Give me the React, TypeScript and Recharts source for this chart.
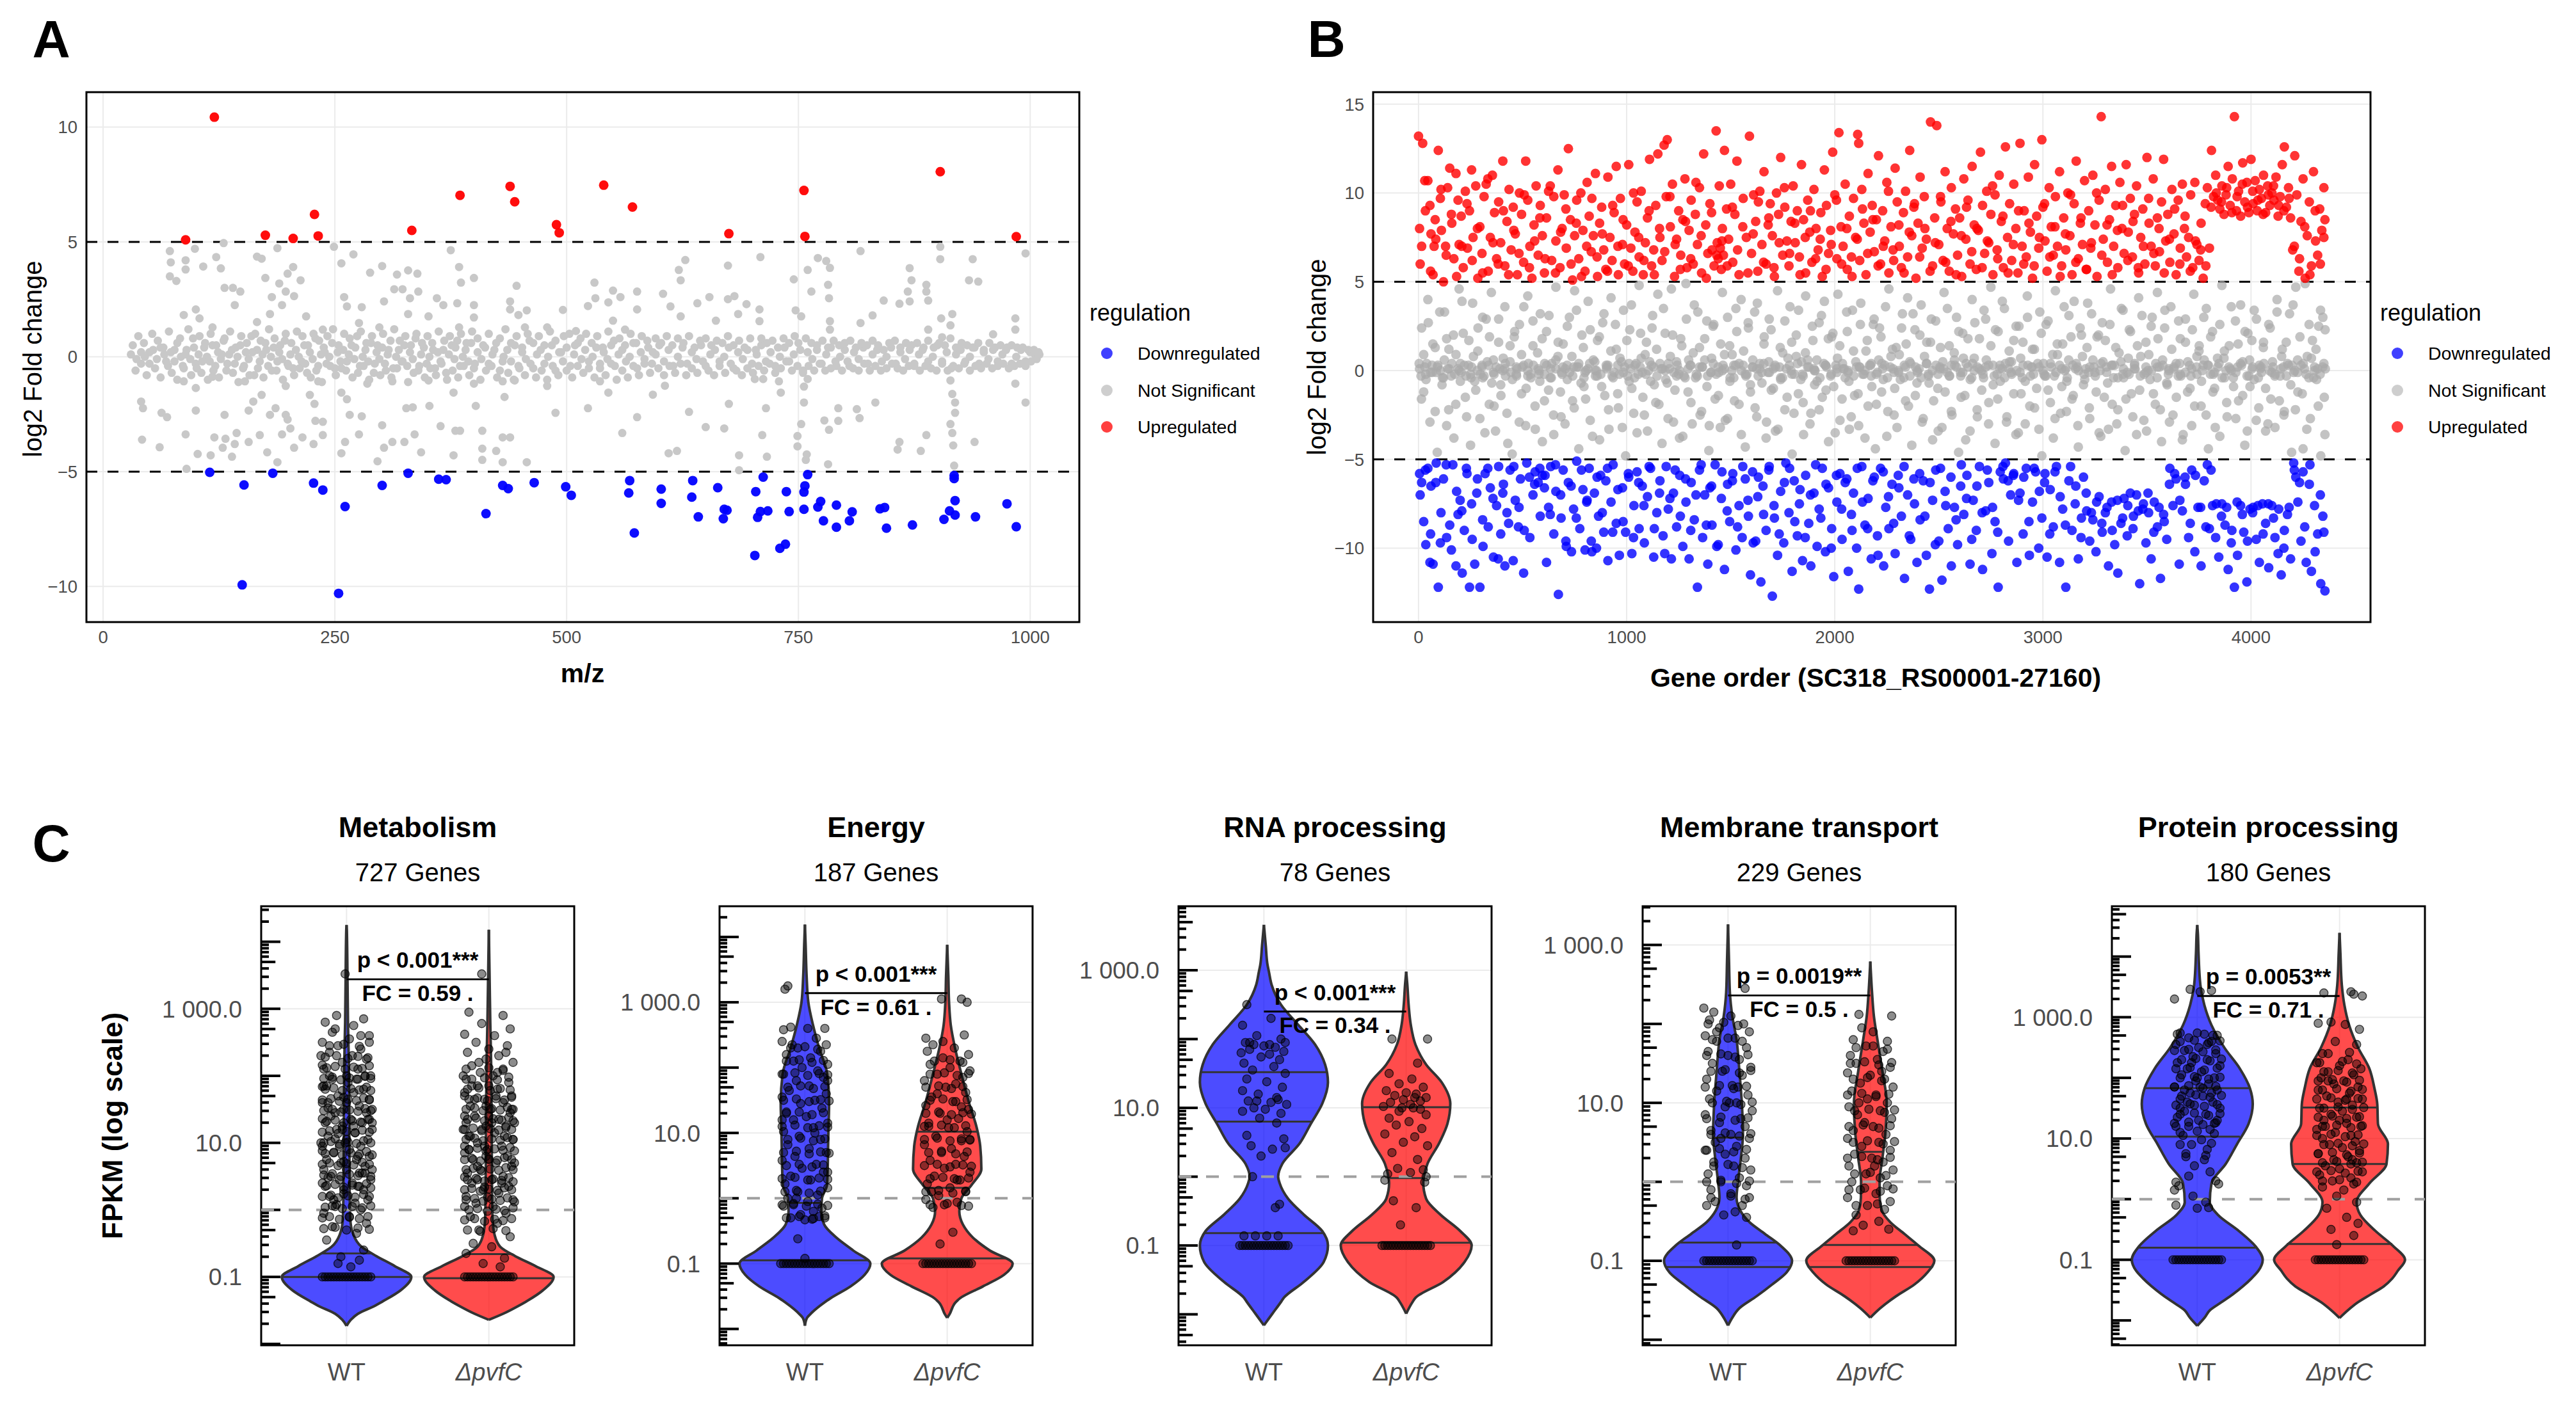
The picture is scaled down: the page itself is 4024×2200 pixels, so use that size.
import React from "react";
import {
  Area,
  CartesianGrid,
  ComposedChart,
  Label,
  ReferenceArea,
  ReferenceLine,
  Scatter,
  ScatterChart,
  XAxis,
  YAxis,
} from "recharts";

type Pair = [number, number];

const FONT = '"Liberation Sans", Arial, Helvetica, sans-serif';

// ---------- panel A : m/z vs log2 fold change ----------
const mzUp: Pair[] = [[120,10.43],[89,5.09],[175,5.29],[205,5.15],[228,6.2],[232,5.26],[333,5.5],[385,7.03],[439,7.42],[444,6.75],[489,5.75],[492,5.4],[540,7.47],[571,6.52],[675,5.36],[756,7.24],[757,5.24],[903,8.06],[985,5.23]];

const mzDown: Pair[] = [[115,-5.03],[152,-5.58],[150,-9.93],[183,-5.07],[227,-5.5],[237,-5.8],[261,-6.52],[254,-10.3],[301,-5.6],[329,-5.07],[362,-5.33],[370,-5.35],[413,-6.83],[431,-5.6],[437,-5.74],[465,-5.48],[499,-5.66],[505,-6.03],[568,-5.39],[567,-5.93],[573,-7.67],[602,-5.76],[602,-6.38],[636,-5.39],[635,-6.11],[642,-6.97],[663,-5.7],[670,-6.64],[669,-7.05],[673,-6.68],[704,-5.87],[712,-5.24],[706,-6.99],[709,-6.74],[717,-6.71],[703,-8.65],[730,-8.34],[736,-8.16],[737,-5.87],[740,-6.74],[760,-5.13],[757,-5.62],[756,-5.89],[756,-6.64],[774,-6.3],[771,-6.54],[777,-7.14],[791,-6.46],[791,-7.42],[808,-6.75],[805,-7.14],[838,-6.62],[843,-6.56],[845,-7.46],[873,-7.32],[907,-7.08],[913,-6.71],[918,-5.17],[918,-5.3],[919,-6.26],[919,-6.89],[941,-6.97],[975,-6.4],[985,-7.4]];

const mzNs: Pair[] = [
  [30,.1],[36,-.1],[41,.2],[45,0],[50,-.3],[54,.3],[58,-.1],[62,.4],[66,.1],[70,-.4],[73,.2],[77,-.2],[80,.6],[84,0],[87,-.5],[90,.3],[94,-.1],[97,.8],[100,-.3],[103,.1],[106,-.7],[109,.4],[112,0],[115,-.2],[118,.5],[121,-.4],[124,.2],[127,-.1],[130,.7],[133,-.6],[136,.1],[139,.3],[142,-.3],[145,0],[148,.5],[151,-.5],[154,.2],[157,-.1],[160,.9],[163,-.8],[166,.3],[169,-.2],[172,.1],[175,.6],[178,-.4],[181,0],[184,.4],[187,-.6],[190,.2],[193,-.1],[196,.7],[199,-.3],[202,.1],[205,-.5],[208,.3],[211,0],[214,-.2],[217,.5],[220,-.7],[223,.2],[226,-.1],[229,.8],[232,-.4],[235,.1],[238,.4],[241,-.3],[244,0],[247,.6],[250,-.5],[253,.2],[256,-.2],[259,.3],[262,-.6],[265,.1],[268,.5],[271,-.1],[274,.9],[277,-.4],[280,0],[283,.3],[286,-.2],[289,.6],[292,-.7],[295,.2],[298,-.1],[301,.4],[304,-.3],[307,.1],[310,.7],[313,-.5],[316,0],[319,.3],[322,-.2],[325,.5],[328,-.4],[331,.2],[334,-.1],[337,.8],[340,-.6],[343,.1],[346,.4],[349,-.3],[352,0],[355,.6],[358,-.5],[361,.2],[364,-.2],[367,.3],[370,-.7],[373,.1],[376,.5],[379,-.1],[382,.7],[385,-.4],[388,0],[391,.3],[394,-.2],[397,.6],[400,-.5],[404,.2],[408,-.1],[412,.4],[416,-.3],[420,.1],[424,.6],[428,-.6],[432,0],[436,.3],[440,-.2],[444,.5],[448,-.4],[452,.2],[456,-.1],[460,.7],[464,-.5],[468,.1],[472,.3],[476,-.3],[480,0],[484,.5],[488,-.6],[492,.2],[496,-.2],[500,.4],[504,-.4],[508,.1],[512,.6],[516,-.1],[520,.3],[524,-.5],[528,0],[532,.4],[536,-.3],[540,.2],[544,-.1],[548,.5],[552,-.4],[556,.1],[560,.3],[564,-.2],[568,0],[572,.6],[576,-.5],[580,.2],[584,-.1],[588,.4],[592,-.3],[596,.1],[600,.5],[605,-.2],[610,.3],[615,-.4],[620,0],[625,.4],[630,-.3],[635,.2],[640,-.1],[645,.5],[650,-.4],[655,.1],[660,.3],[665,-.2],[670,0],[675,.4],[680,-.5],[685,.2],[690,-.1],[695,.3],[700,-.3],[705,.1],[710,.5],[715,-.2],[720,.2],[725,-.4],[730,0],[735,.4],[740,-.2],[745,.1],[750,.6],[755,-.6],[760,.2],[765,-.1],[770,.3],[775,-.3],[780,.1],[785,.4],[790,-.2],[795,0],[800,.3],[805,-.4],[810,.2],[815,-.1],[820,.4],[825,-.3],[830,.1],[835,.3],[840,-.2],[845,0],[850,.4],[855,-.3],[860,.2],[865,-.1],[870,.3],[875,-.4],[880,.1],[885,.4],[890,-.2],[895,0],[900,.5],[905,-.3],[910,.2],[915,-.5],[920,.1],[925,.3],[930,-.2],[935,0],[940,.4],[945,-.3],[950,.2],[955,-.1],[960,.3],[965,-.2],[970,.1],[975,.4],[980,-.3],[985,0],[990,.3],[995,-.2],[1000,.2],[1005,.1],[1010,.1],
  [72,4.6],[73,4.11],[89,4.2],[89,3.8],[72,3.5],[79,3.3],[99,4.7],[108,3.93],[122,4.34],[130,4.95],[127,3.85],[131,3.0],[140,3.0],[148,2.84],[142,2.25],[166,4.36],[171,4.27],[188,4.73],[175,3.43],[205,3.91],[199,3.62],[213,3.33],[190,3.19],[182,2.6],[197,2.84],[193,2.25],[180,1.86],[206,2.64],[249,4.79],[257,4.07],[270,4.46],[260,2.6],[263,2.19],[279,2.16],[288,3.66],[301,3.95],[303,2.41],[314,2.94],[323,2.94],[317,3.58],[329,3.76],[339,3.62],[331,2.55],[340,2.84],[360,2.55],[367,2.25],[375,4.64],[384,3.91],[386,3.23],[400,3.43],[382,2.33],[400,2.25],[439,2.41],[446,3.09],[439,2.06],[457,2.02],[496,2.04],[530,3.23],[531,2.55],[545,2.37],[550,2.88],[558,2.6],[576,2.84],[523,2.21],
  [87,1.82],[100,2.06],[104,1.67],[118,1.28],[166,1.51],[219,1.76],[237,1.18],[276,1.47],[298,1.28],[329,1.86],[351,1.76],[384,1.28],[400,1.71],[448,1.82],[455,1.28],[479,1.28],[510,1.12],[563,1.18],[550,1.57],[576,2.06],
  [42,-3.61],[43,-2.24],[41,-1.95],[61,-3.94],[63,-2.44],[69,-2.63],[89,-3.38],[90,-4.88],[100,-2.34],[102,-4.23],[116,-4.29],[120,-3.51],[131,-2.53],[132,-3.57],[129,-3.96],[139,-4.35],[144,-3.32],[142,-3.8],[157,-3.71],[157,-2.34],[162,-1.95],[171,-1.66],[169,-3.41],[177,-4.16],[180,-2.53],[186,-2.24],[188,-4.59],[197,-2.53],[199,-2.73],[202,-3.12],[193,-3.38],[206,-3.96],[215,-3.51],[223,-1.66],[228,-2.05],[229,-2.79],[237,-2.83],[227,-3.8],[237,-3.41],[257,-1.56],[263,-1.85],[257,-4.2],[266,-2.53],[261,-3.71],[279,-2.59],[276,-3.38],[296,-4.55],[301,-2.98],[303,-3.96],[312,-3.71],[325,-3.71],[327,-2.24],[334,-2.2],[343,-4.16],[336,-3.38],[352,-2.14],[364,-3.02],[378,-1.56],[380,-3.22],[378,-4.29],[385,-3.22],[402,-2.14],[409,-3.22],[409,-4.0],[409,-4.49],[424,-4.1],[431,-3.51],[439,-3.51],[431,-4.59],[457,-4.59],[433,-1.75],[431,-1.07],[488,-2.44],[523,-2.24],[560,-3.32],[576,-2.63],[545,-1.56],[536,-1.07],
  [87,-1.07],[100,-1.36],[118,-.87],[153,-1.07],[197,-1.27],[232,-1.07],[285,-1.17],[312,-1.07],[351,-1.03],[400,-1.17],[444,-1.03],[479,-1.27],
  [628,4.21],[621,3.78],[623,3.33],[604,2.74],[612,2.19],[654,2.6],[641,2.33],[623,1.76],[674,3.97],[681,2.64],[674,2.51],[694,2.29],[709,4.34],[708,2.06],[708,1.55],[685,1.86],[661,1.57],[745,3.37],[760,3.78],[764,2.84],[771,4.3],[780,4.17],[784,3.87],[782,3.13],[783,2.55],[747,2.02],[753,1.76],[784,1.55],[784,1.18],[817,4.6],[817,1.47],[830,1.8],[842,2.45],[859,2.31],[870,3.86],[872,3.33],[868,2.84],[870,2.41],[888,3.13],[888,2.84],[890,2.45],[903,4.79],[903,4.25],[890,1.18],[904,1.67],[916,1.86],[914,1.37],[905,.85],[934,3.33],[938,4.25],[944,3.27],[960,.98],[984,1.67],[984,1.18],[995,4.5],
  [632,-2.4],[650,-3.06],[670,-3.12],[675,-2.05],[610,-4.2],[619,-4.1],[686,-4.29],[686,-4.94],[716,-4.35],[711,-3.41],[715,-2.24],[749,-3.45],[749,-3.9],[753,-2.93],[756,-1.99],[758,-4.49],[759,-4.25],[782,-4.68],[778,-2.77],[793,-2.79],[793,-2.24],[783,-3.18],[813,-2.28],[816,-2.67],[833,-1.99],[857,-4.04],[859,-3.71],[882,-4.1],[888,-3.41],[914,-2.93],[916,-3.32],[919,-2.44],[919,-1.99],[917,-3.86],[918,-4.74],[916,-1.62],[914,-1.03],[940,-3.71],[984,-1.17],[995,-1.99],[712,-.97],[729,-1.07],[756,-1.3],[760,-.97],[731,-1.56],[703,-.97],[606,-1.26],[593,-1.65],
];

// dense core of the unchanged features around 0
const mzNsBand: Pair[] = [
  [32,.5],[35,-.6],[38,.9],[41,-.3],[44,.6],[47,-.8],[50,.2],[53,1.0],[56,-.5],[59,.7],[62,-.9],[65,.4],[68,-.2],[71,1.1],[74,-.7],[77,.3],[80,-1.0],[83,.8],[86,-.4],[89,.1],
  [92,1.2],[95,-.8],[98,.4],[101,-.5],[104,.9],[107,-.2],[110,.6],[113,-1.0],[116,1.0],[119,-.6],[122,.5],[125,-.9],[128,.1],[131,.8],[134,-.3],[137,1.1],[140,-.7],[143,.4],[146,-1.1],[149,.9],
  [152,-.4],[155,.6],[158,-.8],[161,.2],[164,1.0],[167,-.5],[170,.7],[173,-.9],[176,.3],[179,1.2],[182,-.6],[185,.8],[188,-.2],[191,.5],[194,-1.0],[197,1.0],[200,-.4],[203,.6],[206,-.8],[209,1.1],
  [212,-.5],[215,.9],[218,-.3],[221,.5],[224,-.9],[227,1.0],[230,-.6],[233,.7],[236,-1.1],[239,.2],[242,.9],[245,-.4],[248,1.2],[251,-.8],[254,.5],[257,-.5],[260,1.0],[263,-.2],[266,.8],[269,-.9],
  [272,.4],[275,-.7],[278,1.1],[281,-.4],[284,.6],[287,-1.0],[290,.9],[293,-.3],[296,.5],[299,-.8],[302,1.0],[305,-.6],[308,.3],[311,-.9],[314,1.2],[317,-.5],[320,.7],[323,-.2],[326,.9],[329,-1.1],
  [332,.5],[335,-.7],[338,1.0],[341,-.4],[344,.6],[347,-.9],[350,.9],[353,-.5],[356,.3],[359,-.8],[362,1.1],[365,-.3],[368,.7],[371,-1.0],[374,.9],[377,-.6],[380,.4],[383,-.9],[386,1.0],[389,-.4],
  [392,.6],[395,-.8],[398,1.1],[401,-.3],[404,.8],[407,-1.0],[410,.5],[413,-.6],[416,1.0],[419,-.4],[422,.3],[425,-.9],[428,.8],[431,-.2],[434,1.2],[437,-.7],[440,.6],[443,-1.0],[446,.9],[449,-.5],
  [452,.4],[455,-.8],[458,1.0],[461,-.3],[464,.6],[467,-.9],[470,.9],[473,-.6],[476,.5],[479,-1.0],[482,1.1],[485,-.4],[488,.7],[491,-.8],[494,.2],[497,.9],[500,-.6],[503,1.0],[506,-.9],[509,.5],
  [512,-.4],[515,.8],[518,-.7],[521,1.0],[524,-.2],[527,.6],[530,-.9],[533,.9],[536,-.5],[539,.4],[542,-.8],[545,1.1],[548,-.3],[551,.7],[554,-1.0],[557,.8],[560,-.6],[563,.5],[566,-.9],[569,1.0],
  [572,-.4],[575,.6],[578,-.8],[581,.9],[584,-.3],[587,.7],[590,-.7],[593,.2],[596,.8],[599,-.5],[602,.6],[605,-.8],[608,.9],[611,-.4],[614,.5],[617,-.7],[620,.8],[623,-.3],[626,.6],[629,-.8],
  [632,.9],[635,-.5],[638,.4],[641,-.7],[644,.7],[647,-.2],[650,.8],[653,-.6],[656,.5],[659,-.8],[662,.7],[665,-.4],[668,.6],[671,-.7],[674,.9],[677,-.3],[680,.5],[683,-.6],[686,.7],[689,-.8],
  [692,.4],[695,-.5],[698,.8],[701,-.7],[704,.3],[707,-.4],[710,.8],[713,-.6],[716,.6],[719,-.3],[722,.7],[725,-.7],[728,.4],[731,-.5],[734,.8],[737,-.2],[740,.6],[743,-.6],[746,.9],[749,-.4],
  [752,.3],[755,-.7],[758,.8],[761,-.4],[764,.6],[767,-.6],[770,.5],[773,-.3],[776,.7],[779,-.6],[782,.4],[785,-.5],[788,.7],[791,-.4],[794,.5],[797,-.6],[800,.6],[803,-.2],[806,.7],[809,-.5],
  [812,.4],[815,-.6],[818,.6],[821,-.3],[824,.5],[827,-.6],[830,.7],[833,-.4],[836,.5],[839,-.6],[842,.3],[845,-.5],[848,.6],[851,-.3],[854,.7],[857,-.5],[860,.4],[863,-.6],[866,.6],[869,-.4],
  [872,.5],[875,-.3],[878,.6],[881,-.6],[884,.3],[887,-.4],[890,.7],[893,-.5],[896,.4],[899,-.6],[902,.6],[905,-.2],[908,.5],[911,-.6],[914,.8],[917,-.4],[920,.4],[923,-.5],[926,.6],[929,-.3],
  [932,.5],[935,-.6],[938,.4],[941,-.4],[944,.6],[947,-.5],[950,.3],[953,-.3],[956,.6],[959,-.5],[962,.4],[965,-.4],[968,.5],[971,-.3],[974,.3],[977,-.5],[980,.5],[983,-.4],[986,.4],[989,-.3],
  [992,.4],[995,-.4],[998,.3],[1001,-.2],[1004,.3],[1007,-.1],[1009,.2],
];

// ---------- panel B : gene order vs log2 fold change ----------
const geneUp: Pair[] = [
  [0,13.2],[20,12.8],[5,8],[15,7],[30,10.7],[45,10.7],[55,9.3],[60,7.7],[70,5.4],[75,7.0],[80,8.5],[95,12.4],[105,9.7],[110,7.9],[120,5.0],[130,7.0],[140,10.3],[150,11.4],[160,8.3],[170,6.3],[180,11.1],[190,9.6],[195,7.1],
  [205,8.7],[215,5.8],[225,10.1],[235,6.9],[245,9.0],[255,11.3],[262,7.5],[275,10.4],[285,5.2],[295,8.1],[305,6.6],[315,9.8],[325,10.5],[335,5.6],[345,7.5],[355,11.0],[365,8.9],[375,6.3],[385,9.5],[395,7.2],
  [405,11.8],[415,5.9],[425,8.4],[435,10.2],[445,6.8],[455,9.2],[465,7.7],[475,5.4],[485,10.0],[495,8.8],[505,6.1],[515,11.8],[525,9.6],[535,7.0],[545,5.2],[555,8.2],[565,10.4],[575,6.5],[585,9.3],[595,7.6],
  [605,5.5],[615,8.6],[625,10.1],[640,6.2],[650,9.8],[660,7.3],[670,11.3],[680,5.8],[690,8.0],[700,9.9],[710,6.9],[720,12.5],[730,8.5],[740,5.1],[750,7.6],[760,9.6],[770,6.3],[780,10.0],[790,7.9],[800,5.6],
  [810,10.6],[820,8.7],[830,6.7],[840,7.6],[850,11.1],[860,5.3],[870,8.3],[880,9.2],[890,6.8],[900,5.7],[910,10.9],[920,7.5],[930,6.2],[940,8.9],[950,11.5],[960,5.4],[970,9.7],[980,7.1],[990,6.0],[1000,8.2],
  [1010,11.6],[1020,6.9],[1030,5.6],[1040,7.8],[1050,9.5],[1060,6.4],[1070,10.1],[1080,5.4],[1090,7.2],[1100,8.6],[1110,11.9],[1120,5.9],[1130,6.8],[1140,9.3],[1150,12.2],[1160,7.5],[1170,6.2],[1180,12.7],[1195,13.0],[1190,9.8],
  [1210,8.1],[1220,10.5],[1230,5.3],[1240,7.4],[1250,9.0],[1260,6.5],[1270,8.5],[1280,10.8],[1290,5.8],[1300,7.9],[1310,9.6],[1320,6.0],[1330,8.8],[1340,7.1],[1350,10.3],[1360,5.5],[1370,12.2],[1380,8.2],[1390,6.6],[1400,9.4],
  [1410,6.8],[1420,5.9],[1430,13.5],[1435,7.2],[1440,6.3],[1445,10.4],[1450,6.9],[1455,5.7],[1460,8.0],[1465,6.5],[1470,12.4],[1480,9.1],[1490,7.4],[1500,10.5],[1510,6.1],[1520,8.8],[1530,11.8],[1540,5.4],[1560,9.7],[1575,7.5],[1590,13.2],
  [1600,6.6],[1610,9.9],[1620,8.4],[1630,5.6],[1640,10.1],[1650,7.1],[1660,11.2],[1670,6.0],[1680,8.2],[1690,9.4],[1700,7.6],[1710,5.3],[1720,10.0],[1730,8.8],[1740,12.0],[1750,6.5],[1760,9.2],[1770,7.3],[1780,5.9],[1790,8.4],
  [1800,10.4],[1810,7.2],[1820,9.0],[1830,6.4],[1840,11.6],[1850,8.5],[1860,5.5],[1870,9.6],[1880,7.8],[1890,6.1],[1900,10.2],[1910,8.0],[1920,6.8],[1930,7.4],[1940,5.3],[1950,11.3],[1960,9.3],[1970,6.6],[1980,7.9],[1990,12.3],
  [2000,9.9],[2010,6.3],[2020,13.4],[2030,8.1],[2040,7.0],[2050,10.5],[2060,5.7],[2070,8.7],[2080,6.4],[2090,9.7],[2100,7.5],[2110,13.3],[2115,12.8],[2120,6.2],[2130,10.2],[2140,8.3],[2150,5.4],[2160,11.1],[2170,7.8],[2180,9.3],[2190,6.7],
  [2200,8.5],[2210,12.1],[2220,6.0],[2230,9.0],[2240,7.3],[2250,10.6],[2260,5.5],[2270,8.1],[2280,6.8],[2290,11.4],[2300,9.5],[2310,7.0],[2320,5.8],[2330,8.9],[2340,10.1],[2350,6.4],[2360,12.4],[2370,7.6],[2380,9.2],[2390,5.2],
  [2400,8.3],[2410,10.9],[2420,6.9],[2430,9.8],[2440,7.4],[2460,14.0],[2470,5.9],[2480,8.6],[2490,13.8],[2500,7.1],[2510,9.5],[2520,6.2],[2530,11.2],[2540,8.0],[2550,5.6],[2560,10.3],[2570,7.7],[2580,9.1],[2590,6.5],
  [2600,8.6],[2610,5.3],[2620,10.8],[2630,7.4],[2640,9.6],[2650,6.0],[2660,11.5],[2670,8.2],[2680,5.7],[2690,7.9],[2700,12.3],[2710,9.3],[2720,6.6],[2730,10.1],[2740,7.2],[2750,8.8],[2760,5.4],[2770,9.9],[2780,6.8],[2790,11.0],
  [2800,8.4],[2810,5.8],[2820,12.6],[2830,7.5],[2840,9.4],[2850,6.2],[2860,10.5],[2870,8.0],[2880,5.5],[2890,12.8],[2900,7.0],[2910,9.0],[2920,6.4],[2930,10.9],[2940,7.8],[2950,5.2],[2960,11.6],[2970,8.7],[2980,6.9],[2995,13.0],
  [3000,9.2],[3010,7.3],[3020,5.6],[3030,10.3],[3040,8.1],[3050,6.5],[3060,9.8],[3070,7.0],[3080,11.2],[3090,5.9],[3100,8.6],[3110,6.8],[3120,10.0],[3130,7.6],[3140,5.4],[3150,9.4],[3160,11.8],[3170,6.3],[3180,8.3],[3190,7.1],
  [3200,10.7],[3210,5.7],[3220,9.0],[3230,6.9],[3240,11.0],[3250,8.2],[3260,5.3],[3270,9.6],[3280,14.3],[3290,7.4],[3300,10.2],[3310,6.1],[3320,8.5],[3330,11.5],[3340,7.0],[3350,9.3],[3360,5.8],[3370,10.6],[3380,8.0],[3390,6.6],
  [3400,11.6],[3410,7.8],[3420,9.7],[3430,6.4],[3440,8.8],[3450,10.4],[3460,5.5],[3470,7.5],[3480,9.1],[3490,6.0],[3500,12.0],[3510,8.3],[3520,7.0],[3530,10.8],[3540,5.9],[3550,8.6],[3560,6.7],[3570,9.5],[3580,11.9],[3590,7.3],
  [3600,8.8],[3610,6.1],[3620,10.2],[3630,7.7],[3640,5.4],[3650,9.6],[3660,6.9],[3670,10.5],[3680,8.0],[3690,6.4],[3700,7.5],[3710,9.9],[3720,5.8],[3730,10.6],[3740,7.1],[3750,6.2],[3760,8.3],[3770,5.2],[3780,9.4],[3790,10.3],
  [3800,6.9],[3810,12.4],[3820,9.8],[3830,11.0],[3840,9.6],[3850,9.1],[3860,10.4],[3870,8.8],[3880,9.9],[3890,11.5],[3900,9.3],[3910,10.8],[3920,14.3],[3930,9.0],[3940,10.1],[3950,8.7],[3960,11.7],[3970,9.5],[3980,10.6],[3990,8.9],
  [4000,11.9],[4010,9.4],[4020,10.7],[4030,9.0],[4040,10.2],[4050,9.7],[4060,11.0],[4070,8.9],[4080,10.4],[4090,9.3],[4100,10.0],[4110,9.6],[4120,10.9],[4130,8.7],[4140,9.8],[4150,11.6],[4160,12.6],[4170,9.2],[4180,10.3],[4190,8.6],
  [4200,6.8],[4210,12.1],[4220,9.9],[4230,5.6],[4240,8.4],[4250,10.8],[4260,5.2],[4270,7.6],[4280,9.5],[4290,5.9],[4300,11.2],[4310,7.3],[4320,6.5],[4330,9.1],[4340,7.9],[4350,10.3],[4355,8.5],
];

const geneUp2: Pair[] = [
  [8,6.0],[33,9.0],[58,5.6],[83,7.4],[108,10.2],[133,6.5],[158,8.8],[183,5.3],[208,7.0],[233,9.4],[258,6.2],[283,8.0],[308,5.5],[333,10.8],[358,7.2],[383,6.0],[408,9.0],[433,5.4],[458,7.9],[483,6.6],
  [508,9.9],[533,5.8],[558,7.3],[583,8.6],[608,6.3],[633,10.4],[658,5.5],[683,7.8],[708,9.1],[733,6.0],[758,8.3],[783,5.3],[808,7.0],[833,9.7],[858,6.4],[883,7.7],[908,5.6],[933,9.3],[958,7.0],[983,8.5],
  [1008,5.9],[1033,10.0],[1058,7.5],[1083,6.2],[1108,9.0],[1133,5.4],[1158,8.0],[1183,6.7],[1208,9.8],[1233,7.1],[1258,5.7],[1283,8.4],[1308,6.3],[1333,10.6],[1358,7.6],[1383,5.2],[1408,8.9],[1433,6.5],[1458,7.3],[1483,5.9],
  [1508,9.2],[1533,6.8],[1558,8.1],[1583,5.5],[1608,7.7],[1633,9.5],[1658,6.1],[1683,8.6],[1708,5.8],[1733,7.2],[1758,10.3],[1783,6.6],[1808,8.3],[1833,5.4],[1858,7.5],[1883,9.0],[1908,6.3],[1933,8.9],[1958,5.7],[1983,7.1],
  [2008,9.6],[2033,6.0],[2058,8.0],[2083,5.3],[2108,7.4],[2133,9.1],[2158,6.6],[2183,8.5],[2208,5.9],[2233,7.0],[2258,10.1],[2283,6.2],[2308,8.2],[2333,5.5],[2358,7.8],[2383,9.4],[2408,6.4],[2433,8.0],[2458,5.6],[2483,7.2],
  [2508,9.8],[2533,6.1],[2558,8.4],[2583,5.4],[2608,7.6],[2633,9.2],[2658,6.7],[2683,8.0],[2708,5.8],[2733,7.3],[2758,10.4],[2783,6.3],[2808,8.7],[2833,5.5],[2858,7.1],[2883,9.0],[2908,6.0],[2933,8.3],[2958,5.9],[2983,7.5],
  [3008,9.4],[3033,6.4],[3058,8.1],[3083,5.3],[3108,7.7],[3133,9.9],[3158,6.1],[3183,8.6],[3208,5.7],[3233,7.2],[3258,10.0],[3283,6.5],[3308,8.2],[3333,5.4],[3358,7.9],[3383,9.3],[3408,6.2],[3433,8.4],[3458,5.8],[3483,7.0],
  [3508,9.7],[3533,6.6],[3558,8.0],[3583,5.5],[3608,7.4],[3633,9.1],[3658,6.0],[3683,8.7],[3708,5.6],[3733,7.3],[3758,6.8],[3783,5.9],[3808,9.2],[3833,10.0],[3858,9.5],[3883,10.3],[3908,8.9],[3933,9.8],[3958,10.5],[3983,9.2],
  [4008,10.1],[4033,9.6],[4058,8.8],[4083,9.9],[4108,10.4],[4133,9.3],[4158,9.0],[4183,9.7],[4208,7.0],[4233,6.3],[4258,8.1],[4283,5.4],[4308,9.0],[4333,6.0],[4350,7.5],
];

const geneDown: Pair[] = [
  [5,-5.8],[15,-6.3],[25,-8.5],[35,-9.8],[45,-5.5],[55,-10.8],[60,-6.5],[70,-10.9],[85,-5.2],[95,-12.2],[105,-9.7],[120,-6.1],[135,-9.4],[150,-8.7],[165,-5.3],[180,-11.0],[190,-8.1],[200,-7.3],
  [210,-11.4],[220,-9.0],[230,-5.5],[245,-12.2],[255,-7.5],[270,-10.9],[280,-6.9],[295,-12.2],[310,-9.9],[320,-5.8],[335,-8.8],[345,-6.6],[360,-10.5],[375,-7.6],[385,-5.4],[395,-9.2],
  [405,-6.9],[415,-11.0],[425,-8.0],[440,-5.6],[455,-10.7],[465,-7.3],[480,-8.8],[490,-6.1],[505,-11.4],[520,-5.2],[535,-9.4],[550,-7.0],[560,-5.7],[575,-6.3],[585,-8.2],[595,-5.9],
  [605,-6.6],[615,-10.8],[625,-7.7],[635,-5.4],[650,-9.2],[660,-6.8],[672,-12.6],[685,-8.3],[695,-5.6],[710,-9.9],[720,-6.3],[735,-10.2],[745,-7.8],[760,-5.1],[775,-8.9],[790,-6.7],
  [800,-10.1],[810,-7.3],[820,-5.5],[830,-9.6],[845,-6.9],[855,-10.0],[865,-8.2],[875,-5.9],[890,-9.1],[900,-6.2],[910,-10.7],[925,-7.4],[935,-5.3],[950,-8.6],[965,-10.4],[980,-6.6],
  [995,-9.1],[1010,-6.0],[1025,-10.3],[1035,-7.6],[1050,-5.7],[1060,-8.9],[1075,-6.5],[1085,-9.7],[1100,-7.1],[1115,-5.5],[1130,-10.5],[1145,-8.0],[1160,-6.2],[1175,-9.3],[1190,-5.4],[1200,-7.8],
  [1215,-10.6],[1225,-6.9],[1240,-8.8],[1255,-5.9],[1270,-9.9],[1285,-7.4],[1300,-10.6],[1310,-6.3],[1325,-8.4],[1340,-12.2],[1350,-5.6],[1365,-9.4],[1375,-7.0],[1390,-10.9],[1400,-6.6],
  [1410,-8.7],[1425,-5.3],[1440,-9.8],[1455,-7.2],[1470,-11.2],[1485,-6.4],[1495,-8.5],[1510,-5.8],[1525,-10.1],[1540,-7.6],[1555,-9.4],[1570,-6.1],[1585,-8.2],[1595,-11.5],
  [1605,-5.7],[1620,-9.6],[1630,-7.1],[1645,-11.9],[1655,-6.5],[1670,-9.0],[1685,-5.4],[1700,-12.7],[1710,-8.3],[1725,-10.4],[1740,-6.8],[1755,-9.7],[1765,-5.2],[1780,-8.0],[1795,-11.3],
  [1805,-6.2],[1820,-9.3],[1830,-7.5],[1845,-10.7],[1860,-5.9],[1875,-8.6],[1885,-11.0],[1900,-6.9],[1915,-9.9],[1925,-7.8],[1940,-5.5],[1955,-10.2],[1970,-6.6],[1985,-8.9],[1995,-11.6],
  [2010,-7.4],[2025,-5.8],[2035,-9.5],[2050,-6.3],[2065,-11.3],[2080,-8.1],[2090,-6.9],[2105,-10.0],[2115,-12.3],[2130,-5.4],[2145,-8.7],[2160,-7.2],[2175,-10.6],[2190,-6.0],
  [2205,-9.3],[2220,-5.5],[2235,-11.0],[2245,-7.7],[2260,-8.9],[2275,-6.4],[2290,-10.3],[2305,-5.9],[2320,-8.2],[2335,-11.7],[2350,-7.0],[2365,-9.5],[2380,-6.1],[2395,-10.8],
  [2410,-8.4],[2425,-6.2],[2440,-10.4],[2455,-12.3],[2470,-7.3],[2485,-5.6],[2500,-9.6],[2515,-11.8],[2530,-6.8],[2545,-8.9],[2560,-11.0],[2575,-7.7],[2590,-9.8],
  [2605,-6.5],[2620,-8.1],[2635,-5.9],[2650,-10.9],[2665,-7.3],[2680,-9.0],[2695,-5.4],[2710,-11.2],[2725,-7.9],[2740,-6.3],[2755,-10.3],[2770,-8.5],[2785,-12.2],[2795,-5.7],
  [2810,-6.1],[2820,-5.2],[2835,-9.6],[2845,-7.0],[2860,-5.8],[2875,-10.8],[2890,-6.9],[2905,-9.2],[2920,-5.5],[2935,-10.4],[2950,-7.4],[2965,-5.7],[2980,-10.0],[2995,-8.3],
  [3010,-5.8],[3020,-10.5],[3035,-6.7],[3050,-8.8],[3065,-5.4],[3080,-10.8],[3095,-7.8],[3110,-12.2],[3125,-6.2],[3140,-9.0],[3155,-7.5],[3170,-10.6],[3185,-8.3],[3195,-6.0],
  [3210,-7.9],[3225,-9.6],[3240,-8.4],[3255,-10.2],[3270,-7.1],[3285,-9.1],[3300,-8.0],[3315,-11.0],[3330,-7.4],[3345,-9.8],[3360,-11.4],[3375,-8.6],[3390,-7.2],
  [3405,-9.3],[3420,-6.9],[3435,-8.2],[3450,-7.0],[3465,-12.0],[3480,-7.8],[3495,-9.7],[3505,-6.9],[3520,-10.6],[3535,-7.4],[3550,-8.8],[3565,-11.7],[3580,-8.1],[3595,-9.5],
  [3610,-5.5],[3625,-7.6],[3640,-6.1],[3655,-10.9],[3670,-7.9],[3685,-6.4],[3700,-9.4],[3715,-5.6],[3730,-10.2],[3745,-7.7],[3760,-11.0],[3775,-6.2],[3790,-5.3],[3800,-8.9],
  [3815,-7.6],[3830,-9.4],[3845,-10.5],[3860,-7.5],[3875,-8.7],[3890,-11.2],[3905,-9.7],[3920,-12.2],[3935,-10.4],[3950,-7.6],[3965,-9.1],[3980,-11.9],[3995,-7.8],
  [4010,-7.7],[4025,-9.5],[4040,-10.8],[4055,-7.5],[4070,-8.6],[4085,-11.1],[4100,-7.6],[4115,-9.4],[4130,-10.3],[4145,-11.5],[4160,-9.0],[4175,-8.1],[4190,-10.6],
  [4205,-5.2],[4215,-6.0],[4225,-7.4],[4240,-9.6],[4250,-5.7],[4265,-10.8],[4280,-6.4],[4290,-11.3],[4305,-7.6],[4320,-9.2],[4335,-12.0],[4345,-8.2],[4355,-12.4],
];

const geneDown2: Pair[] = [
  [8,-7.0],[33,-5.6],[58,-9.2],[83,-6.3],[108,-8.0],[133,-5.3],[158,-10.1],[183,-6.8],[208,-7.9],[233,-5.8],[258,-9.5],[283,-6.1],[308,-8.4],[333,-5.5],[358,-7.2],[383,-10.6],[408,-6.4],[433,-8.6],[458,-5.4],[483,-7.7],
  [508,-9.0],[533,-6.0],[558,-6.4],[583,-5.5],[608,-5.9],[633,-8.1],[658,-5.3],[683,-7.0],[708,-9.6],[733,-6.5],[758,-8.3],[783,-5.6],[808,-7.4],[833,-10.2],[858,-6.0],[883,-8.0],[908,-5.5],[933,-9.1],[958,-6.7],[983,-8.5],
  [1008,-5.8],[1033,-9.4],[1058,-6.3],[1083,-7.6],[1108,-5.4],[1133,-8.9],[1158,-6.9],[1183,-10.3],[1208,-7.2],[1233,-5.6],[1258,-8.2],[1283,-6.1],[1308,-9.0],[1333,-7.0],[1358,-5.3],[1383,-8.7],[1408,-6.5],[1433,-9.9],[1458,-5.7],[1483,-7.9],
  [1508,-6.2],[1533,-8.8],[1558,-5.4],[1583,-7.3],[1608,-9.7],[1633,-6.0],[1658,-8.1],[1683,-5.6],[1708,-7.6],[1733,-9.2],[1758,-6.3],[1783,-5.5],[1808,-8.5],[1833,-6.7],[1858,-9.4],[1883,-7.0],[1908,-5.3],[1933,-8.3],[1958,-6.4],[1983,-10.0],
  [2008,-5.9],[2033,-7.8],[2058,-6.1],[2083,-9.0],[2108,-5.5],[2133,-7.4],[2158,-8.9],[2183,-6.2],[2208,-10.4],[2233,-5.7],[2258,-7.1],[2283,-8.6],[2308,-6.6],[2333,-5.4],[2358,-9.3],[2383,-7.5],[2408,-5.8],[2433,-8.2],[2458,-6.3],[2483,-9.8],
  [2508,-5.5],[2533,-7.6],[2558,-6.0],[2583,-8.4],[2608,-5.3],[2633,-7.2],[2658,-9.5],[2683,-6.5],[2708,-8.0],[2733,-5.6],[2758,-7.7],[2783,-9.1],[2808,-5.4],[2833,-6.2],[2858,-5.9],[2883,-7.3],[2908,-6.0],[2933,-8.5],[2958,-5.5],[2983,-6.8],
  [3008,-6.3],[3033,-9.2],[3058,-5.7],[3083,-7.1],[3108,-8.7],[3133,-5.4],[3158,-6.5],[3183,-9.4],[3208,-6.9],[3233,-8.0],[3258,-7.4],[3283,-8.6],[3308,-7.7],[3333,-9.0],[3358,-7.3],[3383,-8.3],[3408,-7.6],[3433,-8.9],[3458,-7.9],[3483,-7.5],
  [3508,-8.0],[3533,-9.1],[3558,-7.7],[3583,-8.5],[3608,-6.4],[3633,-5.8],[3658,-7.3],[3683,-6.0],[3708,-8.6],[3733,-5.9],[3758,-7.7],[3783,-8.8],[3808,-5.6],[3833,-7.5],[3858,-8.2],[3883,-7.7],[3908,-9.0],[3933,-7.4],[3958,-8.1],[3983,-9.6],
  [4008,-8.0],[4033,-7.6],[4058,-9.2],[4083,-7.5],[4108,-8.3],[4133,-7.8],[4158,-10.0],[4183,-7.7],[4208,-5.6],[4233,-6.3],[4258,-8.8],[4283,-5.3],[4308,-10.2],[4333,-7.0],[4350,-9.1],
];

const geneNs: Pair[] = [
  [5,.1],[15,2.4],[25,-1.2],[35,-.2],[45,4.0],[55,-2.9],[65,.3],[80,1.3],[90,-4.6],
  [105,0],[115,-.4],[125,3.3],[135,1.8],[145,-2.2],[160,.4],[170,-3.8],[180,.9],[195,4.6],
  [205,-.1],[215,2.1],[225,-1.5],[240,.3],[250,-4.2],[260,3.8],[270,-.6],[285,1.1],[295,-2.7],
  [305,.2],[315,-.3],[325,2.9],[340,-1.9],[350,4.4],[360,.6],[370,-3.4],[385,1.6],[395,-.8],
  [405,0],[415,3.6],[425,-2.4],[440,.5],[450,-4.7],[460,1.9],[470,-.2],[485,2.6],[495,-1.3],
  [505,.3],[515,-3.1],[525,4.2],[540,-.4],[550,1.4],[560,-2.0],[575,.1],[585,3.2],[595,-4.0],
  [605,-.2],[615,2.2],[625,-1.1],[640,.4],[650,-3.6],[660,4.7],[670,.8],[685,-2.6],[695,1.5],
  [705,.1],[715,-.5],[725,3.0],[740,-1.7],[750,4.5],[760,.2],[770,-4.4],[785,2.0],[795,-.9],
  [805,0],[815,3.9],[825,-2.8],[840,.6],[850,-.3],[860,1.7],[870,-3.9],[885,2.7],[895,-1.4],
  [905,.2],[915,-3.3],[925,4.1],[940,-.1],[950,1.2],[960,-2.1],[975,.5],[985,3.4],[995,-4.8],
  [1005,-.3],[1015,2.3],[1025,-1.0],[1040,.3],[1050,-3.5],[1060,4.8],[1070,.7],[1085,-2.5],[1095,1.6],
  [1105,0],[1115,-.6],[1125,3.1],[1140,-1.8],[1150,4.3],[1160,.4],[1170,-4.1],[1185,2.1],[1195,-.7],
  [1205,.1],[1215,4.6],[1225,-2.9],[1240,.5],[1250,-.2],[1260,1.8],[1270,-3.7],[1285,4.9],[1295,-1.2],
  [1305,.3],[1315,-3.0],[1325,3.7],[1340,-.3],[1350,1.3],[1360,-2.3],[1375,.6],[1385,2.8],[1395,-4.5],
  [1405,-.1],[1415,2.5],[1425,-1.6],[1440,.2],[1450,-3.2],[1460,4.4],[1470,.9],[1485,-2.7],[1495,1.4],
  [1505,0],[1515,-.4],[1525,3.5],[1540,-1.9],[1550,4.0],[1560,.3],[1570,-4.3],[1585,2.4],[1595,-.8],
  [1605,.2],[1615,3.3],[1625,-2.6],[1640,.4],[1650,-.1],[1660,1.5],[1670,-3.8],[1685,2.9],[1695,-1.1],
  [1705,.1],[1715,-3.4],[1725,4.5],[1740,-.5],[1750,1.0],[1760,-2.2],[1775,.7],[1785,3.6],[1795,-4.7],
  [1805,-.2],[1815,2.0],[1825,-1.3],[1840,.5],[1850,-3.6],[1860,4.2],[1870,.6],[1885,-2.4],[1895,1.7],
  [1905,0],[1915,-.6],[1925,2.7],[1940,-1.5],[1950,3.9],[1960,.2],[1970,-4.0],[1985,1.9],[1995,-.9],
  [2005,.3],[2015,4.3],[2025,-2.8],[2040,.1],[2050,-.4],[2060,2.2],[2070,-3.3],[2085,3.4],[2095,-1.4],
  [2105,.2],[2115,-3.1],[2125,3.8],[2140,-.2],[2150,1.1],[2160,-2.0],[2175,.4],[2185,2.6],[2195,-4.4],
  [2205,-.1],[2215,2.4],[2225,-1.2],[2240,.3],[2250,-3.7],[2260,4.6],[2270,.8],[2285,-2.5],[2295,1.3],
  [2305,0],[2315,-.5],[2325,3.2],[2340,-1.7],[2350,4.1],[2360,.5],[2370,-4.2],[2385,2.3],[2395,-.7],
  [2405,.1],[2415,3.7],[2425,-2.7],[2440,.4],[2450,-.3],[2460,1.6],[2470,-3.9],[2485,2.8],[2495,-1.0],
  [2505,.2],[2515,-3.2],[2525,4.4],[2540,-.1],[2550,1.4],[2560,-2.3],[2575,.6],[2585,3.0],[2595,-4.6],
  [2605,-.3],[2615,2.1],[2625,-1.4],[2640,.2],[2650,-3.4],[2660,4.0],[2670,.7],[2685,-2.6],[2695,1.8],
  [2705,0],[2715,-.4],[2725,2.9],[2740,-1.8],[2750,4.7],[2760,.3],[2770,-4.1],[2785,2.2],[2795,-.6],
  [2805,.1],[2815,3.5],[2825,-2.9],[2840,.5],[2850,-.2],[2860,1.7],[2870,-3.6],[2885,2.5],[2895,-1.3],
  [2905,.3],[2915,-3.0],[2925,4.2],[2940,-.3],[2950,1.2],[2960,-2.1],[2975,.4],[2985,3.3],[2995,-4.8],
  [3005,-.2],[3015,2.6],[3025,-1.1],[3040,.2],[3050,-3.8],[3060,4.5],[3070,.9],[3085,-2.4],[3095,1.5],
  [3105,0],[3115,-.6],[3125,3.1],[3140,-1.6],[3150,3.9],[3160,.4],[3170,-4.3],[3185,2.0],[3195,-.8],
  [3205,.1],[3215,3.8],[3225,-2.7],[3240,.6],[3250,-.1],[3260,1.9],[3270,-3.5],[3285,2.7],[3295,-1.5],
  [3305,.2],[3315,-3.3],[3325,4.6],[3340,-.4],[3350,1.3],[3360,-2.2],[3375,.5],[3385,3.4],[3395,-4.5],
  [3405,-.1],[3415,2.3],[3425,-1.3],[3440,.3],[3450,-3.6],[3460,4.1],[3470,.8],[3485,-2.8],[3495,1.6],
  [3505,0],[3515,-.5],[3525,3.0],[3540,-1.9],[3550,4.4],[3560,.2],[3570,-4.0],[3585,2.4],[3595,-.7],
  [3605,.1],[3615,3.6],[3625,-2.5],[3640,.4],[3650,-.3],[3660,1.8],[3670,-3.9],[3685,2.9],[3695,-1.2],
  [3705,.3],[3715,-3.1],[3725,4.3],[3740,-.2],[3750,1.1],[3760,-2.0],[3775,.6],[3785,3.5],[3795,-4.4],
  [3805,-.2],[3815,2.2],[3825,-1.0],[3840,.2],[3850,-3.7],[3860,4.8],[3870,.7],[3885,-2.6],[3895,1.4],
  [3905,0],[3915,-.4],[3925,2.8],[3940,-1.7],[3950,3.7],[3960,.5],[3970,-4.2],[3985,2.1],[3995,-.9],
  [4005,.1],[4015,3.4],[4025,-2.8],[4040,.3],[4050,-.1],[4060,1.6],[4070,-3.4],[4085,2.6],[4095,-1.6],
  [4105,.2],[4115,-3.2],[4125,4.0],[4140,-.3],[4150,1.2],[4160,-2.3],[4175,.4],[4185,3.2],[4195,-4.6],
  [4205,-.1],[4215,4.7],[4225,-1.2],[4240,.3],[4250,-4.4],[4260,4.9],[4270,.8],[4285,-2.7],[4295,1.7],
  [4305,0],[4315,-.5],[4325,2.5],[4335,-4.8],[4345,3.0],[4350,.4],[4355,-3.6],[4357,.1],
  [30,.2],[85,-.1],[140,.1],[195,0],[250,-.2],[305,.3],[360,-.1],[415,.1],[470,.2],[525,-.3],[580,0],[635,.1],[690,-.2],[745,.2],[800,-.1],[855,0],[910,.3],[965,-.2],[1020,.1],[1075,-.1],[1130,.2],[1185,0],[1240,-.3],[1295,.1],[1350,.2],[1405,-.1],[1460,0],[1515,.3],[1570,-.2],[1625,.1],[1680,-.1],[1735,.2],[1790,0],[1845,-.2],[1900,.1],[1955,.3],[2010,-.1],[2065,0],[2120,.2],[2175,-.3],[2230,.1],[2285,-.1],[2340,.2],[2395,0],[2450,-.2],[2505,.1],[2560,.3],[2615,-.1],[2670,0],[2725,.2],[2780,-.2],[2835,.1],[2890,-.1],[2945,.2],[3000,0],[3055,-.3],[3110,.1],[3165,.2],[3220,-.1],[3275,0],[3330,.3],[3385,-.2],[3440,.1],[3495,-.1],[3550,.2],[3605,0],[3660,-.2],[3715,.1],[3770,.3],[3825,-.1],[3880,0],[3935,.2],[3990,-.3],[4045,.1],[4100,-.1],[4155,.2],[4210,0],[4265,-.2],[4320,.1],
];

const geneNs2: Pair[] = [
  [3,.4],[14,-1.6],[25,.9],[36,-.5],[47,2.7],[58,-.1],[69,1.5],[80,-2.3],[91,.2],[102,3.3],[113,-.8],[124,.6],[135,-3.1],[146,1.2],[157,-.3],[168,2.0],[179,-1.9],[190,.1],[201,-.6],[209,3.9],
  [220,.3],[231,-2.6],[242,1.7],[253,-.4],[264,.8],[275,-1.1],[286,2.4],[297,-.2],[308,3.0],[319,-3.5],[330,.5],[341,1.9],[352,-.7],[363,-2.0],[374,.2],[385,2.9],[396,-1.4],[407,.7],[418,-.3],[429,-4.1],
  [440,1.4],[451,-.5],[462,2.2],[473,.1],[484,-2.9],[495,.9],[506,3.6],[517,-1.0],[528,.4],[539,-.2],[550,2.8],[561,-3.3],[572,1.0],[583,-.6],[594,1.8],[605,-1.7],[616,.3],[627,3.1],[638,-.4],[649,-2.5],
  [660,.6],[671,1.6],[682,-1.2],[693,.2],[704,-3.0],[715,2.5],[726,-.1],[737,.8],[748,-2.1],[759,3.4],[770,.4],[781,-.7],[792,1.3],[803,-1.6],[814,.1],[825,2.3],[836,-3.7],[847,.5],[858,-.3],[869,1.9],
  [880,-.9],[891,3.2],[902,.3],[913,-2.2],[924,1.1],[935,-.4],[946,2.6],[957,-1.3],[968,.7],[979,-3.2],[990,.2],[1001,1.7],[1012,-.6],[1023,3.7],[1034,-2.4],[1045,.4],[1056,-.2],[1067,2.1],[1078,-1.5],[1089,.9],
  [1100,-3.4],[1111,.5],[1122,2.4],[1133,-.8],[1144,1.2],[1155,-1.9],[1166,.1],[1177,3.5],[1188,-.5],[1199,-2.7],[1210,.8],[1221,2.0],[1232,-1.1],[1243,.3],[1254,-3.8],[1265,1.4],[1276,-.3],[1287,2.9],[1298,.6],[1309,-1.8],
  [1320,1.0],[1331,-.4],[1342,3.3],[1353,-2.5],[1364,.2],[1375,1.8],[1386,-.9],[1397,-3.1],[1408,.7],[1419,2.6],[1430,-.2],[1441,-1.4],[1452,1.5],[1463,.3],[1474,-2.8],[1485,3.0],[1496,-.6],[1507,.9],[1518,-1.7],[1529,2.2],
  [1540,.4],[1551,-3.6],[1562,1.1],[1573,-.3],[1584,2.7],[1595,-1.2],[1606,.6],[1617,-2.1],[1628,3.8],[1639,.1],[1650,-.7],[1661,1.9],[1672,-2.9],[1683,.5],[1694,2.3],[1705,-1.0],[1716,.2],[1727,-3.3],[1738,1.3],[1749,-.4],
  [1760,2.8],[1771,-1.5],[1782,.3],[1793,1.6],[1804,-2.4],[1815,.8],[1826,3.4],[1837,-.5],[1848,-1.8],[1859,1.0],[1870,.2],[1881,-3.0],[1892,2.5],[1903,-.8],[1914,.6],[1925,-2.2],[1936,3.1],[1947,.4],[1958,-1.1],[1969,1.8],
  [1980,-.3],[1991,2.1],[2002,-3.5],[2013,.7],[2024,1.4],[2035,-1.6],[2046,.1],[2057,3.3],[2068,-.6],[2079,-2.6],[2090,1.1],[2101,.5],[2112,-1.3],[2123,2.6],[2134,-.2],[2145,-3.8],[2156,1.7],[2167,.3],[2178,-.9],[2189,2.9],
  [2200,-1.9],[2211,.6],[2222,1.9],[2233,-.5],[2244,3.6],[2255,-2.3],[2266,.2],[2277,1.2],[2288,-1.0],[2299,-3.2],[2310,.9],[2321,2.4],[2332,-.4],[2343,1.5],[2354,-2.0],[2365,.4],[2376,3.2],[2387,-1.4],[2398,-.1],[2409,2.0],
  [2420,-2.9],[2431,.8],[2442,1.6],[2453,-.7],[2464,2.9],[2475,-1.7],[2486,.3],[2497,-3.4],[2508,1.3],[2519,.5],[2530,-1.2],[2541,3.5],[2552,-.3],[2563,-2.5],[2574,1.0],[2585,.2],[2596,2.2],[2607,-1.5],[2618,.7],[2629,-3.9],
  [2640,1.8],[2651,-.5],[2662,.4],[2673,2.7],[2684,-2.2],[2695,.1],[2706,-1.1],[2717,3.4],[2728,.6],[2739,-3.0],[2750,1.4],[2761,-.8],[2772,2.3],[2783,-1.6],[2794,.3],[2805,3.9],[2816,-.4],[2827,-2.6],[2838,1.1],[2849,.5],
  [2860,-1.3],[2871,2.5],[2882,-3.5],[2893,.7],[2904,1.6],[2915,-.6],[2926,3.0],[2937,-2.0],[2948,.2],[2959,1.2],[2970,-1.0],[2981,-3.3],[2992,2.1],[3003,.4],[3014,-.3],[3025,2.8],[3036,-1.8],[3047,.9],[3058,-2.7],[3069,1.5],
  [3080,.3],[3091,-.9],[3102,3.6],[3113,-2.3],[3124,.6],[3135,1.9],[3146,-1.4],[3157,.1],[3168,-3.1],[3179,2.4],[3190,.8],[3201,-.5],[3212,1.3],[3223,-2.1],[3234,3.2],[3245,.2],[3256,-1.2],[3267,2.0],[3278,-3.7],[3289,.5],
  [3300,1.7],[3311,-.7],[3322,2.6],[3333,-1.9],[3344,.3],[3355,-3.0],[3366,1.0],[3377,3.5],[3388,-.4],[3399,-1.6],[3410,.7],[3421,2.2],[3432,-2.6],[3443,.1],[3454,1.4],[3465,-1.1],[3476,3.1],[3487,-.2],[3498,-3.4],[3509,.9],
  [3520,2.5],[3531,-1.3],[3542,.4],[3553,1.8],[3564,-2.2],[3575,.6],[3586,3.4],[3597,-.8],[3608,-2.9],[3619,1.2],[3630,.2],[3641,-1.5],[3652,2.8],[3663,-.3],[3674,-3.6],[3685,1.6],[3696,.5],[3707,-1.0],[3718,2.3],[3729,-2.0],
  [3740,.8],[3751,1.4],[3762,-.6],[3773,3.0],[3784,-2.5],[3795,.3],[3806,1.9],[3817,-1.2],[3828,-3.2],[3839,.7],[3850,2.6],[3861,-.4],[3872,1.1],[3883,-1.8],[3894,.2],[3905,3.6],[3916,-.9],[3927,-2.7],[3938,1.5],[3949,.4],
  [3960,-1.4],[3971,2.2],[3982,-3.4],[3993,.6],[4004,1.7],[4015,-.5],[4026,2.9],[4037,-2.1],[4048,.2],[4059,1.3],[4070,-1.0],[4081,-3.0],[4092,2.4],[4103,.5],[4114,-.3],[4125,3.3],[4136,-1.7],[4147,.8],[4158,-2.5],[4169,1.6],
  [4180,.3],[4191,-.8],[4202,3.7],[4213,-2.2],[4224,.6],[4235,1.9],[4246,-1.3],[4257,.1],[4268,-3.3],[4279,2.6],[4290,.7],[4301,-.4],[4312,1.2],[4323,-2.0],[4334,3.4],[4345,.2],[4352,-1.5],[4356,2.3],
  [12,-.3],[39,.4],[66,-.1],[93,.3],[120,-.4],[147,.1],[174,-.2],[201,.4],[228,-.3],[255,.2],[282,0],[309,-.4],[336,.3],[363,-.2],[390,.1],[417,.4],[444,-.1],[471,-.3],[498,.2],[525,0],
  [552,.3],[579,-.2],[606,.4],[633,-.4],[660,.1],[687,-.1],[714,.3],[741,-.3],[768,.2],[795,-.4],[822,.4],[849,0],[876,-.2],[903,.1],[930,-.3],[957,.3],[984,-.1],[1011,.4],[1038,-.4],[1065,.2],
  [1092,-.2],[1119,.3],[1146,-.3],[1173,.1],[1200,.4],[1227,-.1],[1254,0],[1281,-.4],[1308,.3],[1335,-.2],[1362,.2],[1389,-.3],[1416,.4],[1443,-.1],[1470,.1],[1497,-.4],[1524,.3],[1551,0],[1578,-.2],[1605,.2],
  [1632,-.3],[1659,.4],[1686,-.1],[1713,.3],[1740,-.4],[1767,.1],[1794,-.2],[1821,.4],[1848,-.3],[1875,.2],[1902,0],[1929,-.4],[1956,.3],[1983,-.2],[2010,.1],[2037,.4],[2064,-.1],[2091,-.3],[2118,.2],[2145,0],
  [2172,.3],[2199,-.2],[2226,.4],[2253,-.4],[2280,.1],[2307,-.1],[2334,.3],[2361,-.3],[2388,.2],[2415,-.4],[2442,.4],[2469,0],[2496,-.2],[2523,.1],[2550,-.3],[2577,.3],[2604,-.1],[2631,.4],[2658,-.4],[2685,.2],
  [2712,-.2],[2739,.3],[2766,-.3],[2793,.1],[2820,.4],[2847,-.1],[2874,0],[2901,-.4],[2928,.3],[2955,-.2],[2982,.2],[3009,-.3],[3036,.4],[3063,-.1],[3090,.1],[3117,-.4],[3144,.3],[3171,0],[3198,-.2],[3225,.2],
  [3252,-.3],[3279,.4],[3306,-.1],[3333,.3],[3360,-.4],[3387,.1],[3414,-.2],[3441,.4],[3468,-.3],[3495,.2],[3522,0],[3549,-.4],[3576,.3],[3603,-.2],[3630,.1],[3657,.4],[3684,-.1],[3711,-.3],[3738,.2],[3765,0],
  [3792,.3],[3819,-.2],[3846,.4],[3873,-.4],[3900,.1],[3927,-.1],[3954,.3],[3981,-.3],[4008,.2],[4035,-.4],[4062,.4],[4089,0],[4116,-.2],[4143,.1],[4170,-.3],[4197,.3],[4224,-.1],[4251,.4],[4278,-.4],[4305,.2],[4332,-.2],
];

// ---------- panel C : FPKM violins (values in log10 FPKM) ----------
const groups = ["WT", "\u0394pvfC"];
const categories = ["Metabolism", "Energy", "RNA processing", "Membrane transport", "Protein processing"];
const geneCounts = [727, 187, 78, 229, 180];
const pLabels = ["p < 0.001***", "p < 0.001***", "p < 0.001***", "p = 0.0019**", "p = 0.0053**"];
const fcLabels = ["FC = 0.59 .", "FC = 0.61 .", "FC = 0.34 .", "FC = 0.5 .", "FC = 0.71 ."];
const bracketLevels = [3.44, 3.14, 2.4, 2.36, 3.35];
const noExprLevel = -1; // FPKM 0.1 floor
const zeroBand = [-0.17,-0.15,-0.13,-0.11,-0.09,-0.07,-0.05,-0.03,-0.01,0.01,0.03,0.05,0.07,0.09,0.11,0.13,0.15,0.17];

const metabLevels = [-1.73,-1.64,-1.55,-1.43,-1.37,-1.2,-1.0,-0.84,-0.69,-0.55,-0.37,-0.13,0.4,1.3,2.2,2.8,3.35,4.18,4.25];
const metabWt = [0,0.03,0.08,0.2,0.25,0.38,0.455,0.34,0.21,0.105,0.048,0.026,0.021,0.019,0.016,0.01,0.007,0.002,0];
const metabKo = [null,0,0.1,0.21,0.26,0.38,0.455,0.33,0.185,0.08,0.04,0.026,0.022,0.02,0.016,0.01,0.006,0,null];
const metabWtQ: Pair[] = [[-1.0,0.455],[-0.65,0.18]];
const metabKoQ: Pair[] = [[-1.02,0.45],[-0.66,0.17]];
const metabWtPts: Pair[] = [[-0.15,2.8],[0.12,2.85],[0.05,2.75],[-0.08,2.7],[0.16,2.6],[-0.17,2.5],[0.02,2.55],[0.1,2.4],[-0.12,2.35],[0.14,2.25],[-0.03,2.2],[-0.16,2.1],[0.08,2.1],[0.17,2.0],[-0.1,1.95],[0.01,1.9],[-0.14,1.85],[0.12,1.8],[0.05,1.75],[-0.06,1.7],[0.16,1.65],[-0.17,1.6],[0.09,1.55],[-0.02,1.5],[0.14,1.45],[-0.11,1.4],[0.03,1.35],[-0.15,1.3],[0.11,1.3],[0.18,1.2],[-0.07,1.2],[0.06,1.15],[-0.13,1.1],[0.15,1.05],[-0.01,1.0],[0.1,0.95],[-0.17,0.95],[0.02,0.9],[-0.09,0.85],[0.16,0.8],[-0.14,0.75],[0.07,0.75],[-0.04,0.7],[0.13,0.65],[-0.16,0.6],[0,0.6],[0.09,0.55],[-0.11,0.5],[0.17,0.45],[-0.05,0.45],[0.04,0.4],[-0.15,0.35],[0.12,0.3],[-0.02,0.3],[-0.12,0.2],[0.15,0.15],[0.06,0.1],[-0.08,0.05],[0.1,0],[-0.16,-0.05],[0.02,-0.1],[0.14,-0.2],[-0.1,-0.25],[0.07,-0.35],[-0.14,-0.45],[0.12,-0.6],[-0.04,-0.7],[0.09,-0.75],[-0.06,-0.8],[0.03,-0.85],[-0.18,2.3],[0.18,1.5],[-0.18,1.0],[0.18,0.6],[-0.06,2.45],[0.07,1.95],[-0.08,1.45],[0.05,1.25],[-0.05,0.95],[0.08,0.35],[-0.1,2.65],[0,2.0],[0,1.6],[0,1.05],[-0.13,1.6],[0.13,2.0],[-0.12,2.0],[0.1,2.6],[-0.07,2.9],[0.04,2.3],[-0.03,1.25],[0.16,1.35],[-0.16,1.85],[0.08,0.8],[-0.09,0.15],[0.11,0.55],[-0.01,3.52]];
const metabWtCore: Pair[] = [
  [-0.16,-0.28],[-0.08,-0.26],[0,-0.3],[0.08,-0.27],[0.16,-0.29],
  [-0.17,-0.12],[-0.12,-0.1],[-0.05,-0.14],[0.02,-0.11],[0.09,-0.13],[0.15,-0.1],
  [-0.15,0.04],[-0.1,0.06],[-0.03,0.02],[0.04,0.05],[0.11,0.03],[0.17,0.06],[-0.07,0.08],
  [-0.17,0.2],[-0.11,0.22],[-0.06,0.18],[0.01,0.21],[0.06,0.19],[0.12,0.23],[0.16,0.2],[-0.02,0.24],
  [-0.14,0.36],[-0.08,0.38],[-0.02,0.34],[0.04,0.37],[0.09,0.35],[0.14,0.39],[-0.17,0.4],[0.17,0.33],
  [-0.16,0.52],[-0.1,0.54],[-0.04,0.5],[0.02,0.53],[0.08,0.51],[0.13,0.55],[0.17,0.5],[-0.13,0.48],
  [-0.17,0.68],[-0.12,0.7],[-0.06,0.66],[0,0.69],[0.05,0.67],[0.11,0.71],[0.16,0.68],[-0.02,0.72],
  [-0.15,0.84],[-0.09,0.86],[-0.03,0.82],[0.03,0.85],[0.09,0.83],[0.14,0.87],[-0.17,0.88],[0.18,0.82],
  [-0.16,1.0],[-0.11,1.02],[-0.05,0.98],[0.01,1.01],[0.07,0.99],[0.12,1.03],[0.17,1.0],[-0.08,1.06],
  [-0.17,1.16],[-0.12,1.18],[-0.06,1.14],[0,1.17],[0.06,1.15],[0.11,1.19],[0.16,1.16],[-0.03,1.2],
  [-0.14,1.32],[-0.08,1.34],[-0.02,1.3],[0.04,1.33],[0.1,1.31],[0.15,1.35],[-0.17,1.36],[0.18,1.3],
  [-0.16,1.48],[-0.1,1.5],[-0.04,1.46],[0.02,1.49],[0.08,1.47],[0.13,1.51],[0.17,1.48],[-0.13,1.52],
  [-0.17,1.64],[-0.11,1.66],[-0.05,1.62],[0.01,1.65],[0.07,1.63],[0.12,1.67],[0.16,1.64],[-0.02,1.68],
  [-0.15,1.8],[-0.09,1.82],[-0.03,1.78],[0.03,1.81],[0.09,1.79],[0.14,1.83],[-0.17,1.84],[0.17,1.78],
  [-0.16,1.96],[-0.1,1.98],[-0.04,1.94],[0.02,1.97],[0.08,1.95],[0.13,1.99],[0.17,1.96],
  [-0.14,2.12],[-0.08,2.14],[-0.01,2.1],[0.05,2.13],[0.11,2.11],[0.16,2.15],[-0.17,2.16],
  [-0.15,2.28],[-0.07,2.3],[0.01,2.26],[0.08,2.29],[0.15,2.27],
  [-0.12,2.45],[-0.02,2.47],[0.09,2.44],[0.16,2.5],
];
const metabKoPts: Pair[] = [[-0.14,2.95],[0.1,2.9],[-0.05,2.78],[0.15,2.7],[-0.17,2.62],[0.04,2.6],[-0.09,2.5],[0.13,2.45],[-0.15,2.35],[0.07,2.3],[-0.02,2.25],[0.17,2.2],[-0.12,2.15],[0.1,2.1],[-0.06,2.05],[0.03,2.0],[-0.16,1.95],[0.14,1.9],[-0.08,1.85],[0.06,1.8],[-0.17,1.75],[0.16,1.7],[-0.03,1.65],[0.1,1.6],[-0.13,1.55],[0.01,1.5],[0.15,1.45],[-0.1,1.4],[0.07,1.35],[-0.16,1.3],[0.12,1.25],[-0.05,1.2],[0.04,1.15],[-0.14,1.1],[0.17,1.05],[-0.08,1.0],[0.09,0.95],[-0.01,0.9],[-0.17,0.85],[0.13,0.8],[-0.11,0.75],[0.05,0.7],[0.16,0.65],[-0.06,0.6],[-0.15,0.55],[0.1,0.5],[0.02,0.45],[-0.12,0.4],[0.14,0.35],[-0.04,0.3],[0.07,0.25],[-0.16,0.2],[0.17,0.15],[-0.09,0.1],[0.03,0.05],[0.12,-0.05],[-0.13,-0.1],[0.06,-0.2],[-0.07,-0.3],[0.15,-0.4],[-0.11,-0.5],[0.02,-0.55],[-0.16,-0.65],[0.11,-0.72],[-0.04,-0.8],[0.08,-0.85],[-0.18,2.0],[0.18,1.3],[-0.18,1.2],[0.18,0.7],[-0.07,2.2],[0.05,1.7],[-0.1,1.65],[0.02,1.3],[-0.03,0.95],[0.09,0.4],[0,2.4],[0,1.85],[0,1.4],[0,0.75],[-0.12,1.85],[0.12,2.35],[0.11,1.1],[-0.14,0.9],[0.06,2.05],[-0.02,1.55],[0.16,1.5],[-0.08,0.45],[-0.05,3.52]];
const metabKoCore: Pair[] = [
  [-0.15,-0.3],[-0.06,-0.32],[0.03,-0.28],[0.12,-0.31],
  [-0.17,-0.15],[-0.1,-0.13],[-0.03,-0.17],[0.04,-0.14],[0.1,-0.16],[0.16,-0.13],
  [-0.14,0],[-0.08,0.02],[-0.01,-0.02],[0.05,0.01],[0.11,-0.01],[0.17,0.03],[-0.17,0.05],
  [-0.16,0.15],[-0.1,0.17],[-0.04,0.13],[0.02,0.16],[0.08,0.14],[0.13,0.18],[0.18,0.12],[-0.01,0.19],
  [-0.17,0.3],[-0.12,0.32],[-0.06,0.28],[0,0.31],[0.06,0.29],[0.11,0.33],[0.16,0.3],[-0.03,0.34],
  [-0.15,0.45],[-0.09,0.47],[-0.03,0.43],[0.03,0.46],[0.09,0.44],[0.14,0.48],[-0.17,0.49],[0.17,0.42],
  [-0.16,0.6],[-0.11,0.62],[-0.05,0.58],[0.01,0.61],[0.07,0.59],[0.12,0.63],[0.17,0.6],[-0.08,0.65],
  [-0.17,0.75],[-0.12,0.77],[-0.06,0.73],[0,0.76],[0.06,0.74],[0.11,0.78],[0.16,0.75],[-0.02,0.8],
  [-0.14,0.9],[-0.08,0.92],[-0.02,0.88],[0.04,0.91],[0.1,0.89],[0.15,0.93],[-0.17,0.95],[0.18,0.88],
  [-0.16,1.05],[-0.1,1.07],[-0.04,1.03],[0.02,1.06],[0.08,1.04],[0.13,1.08],[0.17,1.05],[-0.13,1.1],
  [-0.17,1.2],[-0.11,1.22],[-0.05,1.18],[0.01,1.21],[0.07,1.19],[0.12,1.23],[0.16,1.2],[-0.02,1.25],
  [-0.15,1.35],[-0.09,1.37],[-0.03,1.33],[0.03,1.36],[0.09,1.34],[0.14,1.38],[-0.17,1.4],[0.17,1.33],
  [-0.16,1.5],[-0.1,1.52],[-0.04,1.48],[0.02,1.51],[0.08,1.49],[0.13,1.53],[0.17,1.5],
  [-0.14,1.65],[-0.08,1.67],[-0.01,1.63],[0.05,1.66],[0.11,1.64],[0.16,1.68],[-0.17,1.7],
  [-0.15,1.8],[-0.07,1.82],[0.01,1.78],[0.08,1.81],[0.15,1.79],
  [-0.12,1.95],[-0.03,1.97],[0.06,1.94],[0.14,1.98],
  [-0.16,2.1],[0,2.12],[0.1,2.08],
];

const energyLevels = [-1.95,-1.83,-1.78,-1.59,-1.53,-1.35,-1.17,-1.0,-0.8,-0.6,-0.4,-0.2,0,0.2,0.45,0.8,1.1,1.45,1.9,2.3,2.65,3.0,3.4,3.88,4.19];
const energyWt = [0,0.015,0.035,0.14,0.18,0.32,0.42,0.46,0.34,0.22,0.135,0.115,0.12,0.155,0.16,0.163,0.166,0.17,0.157,0.1,0.057,0.024,0.012,0.005,0];
const energyKo = [null,0,0.015,0.06,0.09,0.25,0.4,0.46,0.3,0.18,0.11,0.085,0.1,0.17,0.24,0.232,0.205,0.155,0.1,0.055,0.025,0.013,0.008,0,null];
const energyWtQ: Pair[] = [[-0.95,0.45],[-0.07,0.115]];
const energyKoQ: Pair[] = [[-0.92,0.42],[0.16,0.16],[1.02,0.21]];
const energyWtPts: Pair[] = [[-0.14,3.2],[-0.12,3.25],[0.14,2.6],[-0.1,2.62],[-0.15,2.58],[0.02,2.6],[0.08,2.45],[-0.16,2.4],[0.15,2.35],[-0.05,2.3],[0.11,2.25],[-0.13,2.2],[0.04,2.15],[-0.08,2.1],[0.16,2.05],[-0.02,2.0],[0.09,1.95],[-0.15,1.9],[0.13,1.85],[-0.06,1.8],[0.03,1.72],[-0.11,1.65],[0.15,1.6],[-0.16,1.55],[0.07,1.5],[-0.03,1.45],[0.12,1.38],[-0.13,1.32],[0.01,1.25],[-0.08,1.2],[0.16,1.15],[0.06,1.08],[-0.15,1.02],[-0.04,0.95],[0.11,0.9],[-0.12,0.82],[0.03,0.76],[0.15,0.7],[-0.07,0.64],[-0.16,0.58],[0.08,0.52],[-0.02,0.46],[0.13,0.4],[-0.1,0.34],[0.04,0.28],[-0.14,0.22],[0.16,0.16],[-0.05,0.1],[0.09,0.05],[-0.12,0],[0.02,-0.05],[-0.08,-0.1],[0.12,-0.15],[-0.15,-0.12],[0.06,-0.2],[-0.03,-0.25],[0.1,-0.28],[-0.1,-0.3],[0,-0.33],[0.14,-0.3],[-0.05,-0.62],[0,-0.92],[0.16,1.8],[-0.16,1.2],[0.16,0.4],[-0.09,2.35],[0.07,1.0],[-0.06,0],[0.05,-0.32],
  [-0.13,-0.3],[-0.04,-0.28],[0.06,-0.31],[0.14,-0.27],[-0.16,-0.1],[-0.08,-0.08],[0.01,-0.12],[0.09,-0.09],[0.16,-0.11],[-0.14,0.1],[-0.06,0.12],[0.03,0.08],[0.11,0.11],[-0.16,0.3],[-0.07,0.32],[0.02,0.28],[0.1,0.31],[0.16,0.29],[-0.13,0.5],[-0.04,0.52],[0.05,0.48],[0.13,0.51],[-0.15,0.7],[-0.06,0.72],[0.03,0.68],[0.11,0.71],[0.17,0.69],[-0.12,0.9],[-0.03,0.92],[0.06,0.88],[0.14,0.91],[-0.16,1.1],[-0.07,1.12],[0.02,1.08],[0.1,1.11],[0.16,1.09],[-0.13,1.3],[-0.04,1.32],[0.05,1.28],[0.13,1.31],[-0.15,1.5],[-0.06,1.52],[0.03,1.48],[0.11,1.51],[0.17,1.49],[-0.12,1.7],[-0.03,1.72],[0.06,1.68],[0.14,1.71],[-0.16,1.9],[-0.07,1.92],[0.02,1.88],[0.1,1.91],[0.16,1.89],[-0.13,2.1],[-0.04,2.12],[0.05,2.08],[0.13,2.11],[-0.1,2.3],[0,2.32],[0.09,2.28]];
const energyKoPts: Pair[] = [[-0.04,3.05],[0.1,3.05],[0.14,3.0],[-0.15,2.45],[0.12,2.5],[-0.1,2.35],[0.05,2.3],[-0.14,2.25],[0.15,2.2],[-0.03,2.15],[0.09,2.1],[-0.12,2.05],[0.02,2.0],[0.16,1.95],[-0.07,1.9],[0.11,1.85],[-0.16,1.8],[0.06,1.75],[-0.01,1.7],[0.13,1.62],[-0.11,1.55],[0.04,1.48],[-0.15,1.42],[0.15,1.36],[-0.05,1.3],[0.08,1.22],[-0.13,1.15],[0.01,1.08],[0.14,1.02],[-0.08,0.95],[0.1,0.88],[-0.16,0.82],[0.03,0.76],[-0.04,0.7],[0.12,0.64],[-0.12,0.58],[0.06,0.52],[-0.02,0.46],[0.16,0.4],[-0.09,0.34],[0.09,0.28],[-0.14,0.22],[0.02,0.16],[0.13,0.1],[-0.06,0.04],[-0.15,-0.02],[0.07,-0.06],[-0.02,-0.1],[0.15,-0.12],[-0.1,-0.14],[0.04,-0.52],[-0.05,-0.7],[-0.16,1.1],[0.16,0.9],[-0.07,1.6],[0.05,0.3],[-0.11,0.1],[0.1,1.4],[-0.03,2.4],[0,1.2],
  [-0.12,-0.1],[0,-0.08],[0.1,-0.11],[-0.15,0.1],[-0.06,0.12],[0.04,0.08],[0.13,0.11],[-0.12,0.3],[-0.03,0.32],[0.07,0.28],[0.15,0.31],[-0.16,0.5],[-0.07,0.52],[0.02,0.48],[0.11,0.51],[0.17,0.49],[-0.13,0.7],[-0.04,0.72],[0.06,0.68],[0.14,0.71],[-0.16,0.9],[-0.07,0.92],[0.02,0.88],[0.1,0.91],[0.16,0.89],[-0.13,1.1],[-0.04,1.12],[0.05,1.08],[0.13,1.11],[-0.15,1.3],[-0.06,1.32],[0.03,1.28],[0.11,1.31],[0.17,1.29],[-0.12,1.5],[-0.03,1.52],[0.06,1.48],[0.14,1.51],[-0.15,1.7],[-0.06,1.72],[0.03,1.68],[0.11,1.71],[-0.12,1.9],[-0.02,1.92],[0.07,1.88],[0.15,1.91],[-0.09,2.1],[0.02,2.12],[0.11,2.08]];

const rnaLevels = [-2.16,-1.99,-1.82,-1.76,-1.53,-1.24,-1.0,-0.79,-0.55,-0.32,-0.09,0,0.19,0.48,0.77,1.06,1.37,1.63,1.92,2.21,2.5,2.79,2.98,3.07,3.36,3.66];
const rnaWt = [0,0.06,0.12,0.14,0.28,0.42,0.45,0.41,0.28,0.17,0.11,0.1,0.13,0.25,0.33,0.41,0.45,0.43,0.36,0.24,0.12,0.054,0.035,0.026,0.013,0];
const rnaKo = [null,0,0.045,0.065,0.26,0.41,0.46,0.38,0.24,0.14,0.12,0.125,0.15,0.23,0.29,0.31,0.25,0.14,0.065,0.032,0.017,0.008,0,null,null,null];
const rnaWtQ: Pair[] = [[-0.82,0.42],[0.8,0.34],[1.52,0.44]];
const rnaKoQ: Pair[] = [[-0.96,0.46],[-0.02,0.125],[1.01,0.31]];
const rnaWtPts: Pair[] = [[-0.12,2.5],[0.05,2.3],[-0.15,2.2],[-0.05,2.05],[0.12,2.0],[-0.13,1.95],[-0.07,1.92],[0,1.9],[0.08,1.88],[-0.1,1.85],[0.14,1.82],[-0.16,1.8],[0.04,1.78],[-0.02,1.74],[0.11,1.7],[-0.14,1.65],[0.07,1.6],[-0.08,1.55],[0.15,1.5],[-0.12,1.42],[0.02,1.38],[0.13,1.3],[-0.15,1.25],[-0.04,1.2],[0.09,1.15],[-0.11,1.1],[0.05,1.08],[0.16,1.05],[-0.07,1.0],[0.01,0.98],[-0.15,0.95],[0.12,0.92],[-0.03,0.85],[0.09,0.78],[-0.12,0.6],[0.14,0.55],[-0.09,0.45],[0.06,0.4],[0.15,0.42],[-0.02,0.3],[-0.08,0],[0.11,-0.4],[0.08,-0.45],[-0.14,-0.86],[-0.06,-0.86],[0.02,-0.86],[0.1,-0.86],[-0.1,1.95],[0.04,1.92],[0.1,1.12],[-0.05,1.1],[0.15,1.95]];
const rnaKoPts: Pair[] = [[-0.1,2.0],[0.15,2.0],[0.08,1.65],[-0.12,1.5],[0.04,1.42],[-0.05,1.35],[0.12,1.3],[-0.14,1.25],[0,1.22],[0.07,1.2],[-0.08,1.18],[0.14,1.15],[-0.02,1.12],[0.1,1.1],[-0.11,1.08],[0.03,1.05],[-0.16,1.02],[0.05,1.0],[0.1,0.98],[-0.05,0.95],[0.14,0.9],[-0.12,0.85],[0.02,0.8],[-0.07,0.75],[0.11,0.7],[-0.15,0.62],[0.06,0.58],[-0.02,0.5],[0.15,0.45],[-0.1,0.35],[0.08,0.25],[-0.06,0.12],[0.12,0.1],[0.03,0.06],[-0.13,0.04],[0.14,0],[-0.15,-0.05],[0.13,-0.08],[-0.09,-0.35],[0.07,-0.45],[-0.04,-0.7],[0.06,1.15],[-0.03,1.0]];

const membLevels = [-1.82,-1.72,-1.6,-1.45,-1.3,-1.15,-1.0,-0.81,-0.66,-0.51,-0.36,-0.2,0,0.3,0.6,1.0,1.4,1.8,2.1,2.4,2.79,3.26];
const membWt = [0,0.03,0.08,0.2,0.31,0.41,0.45,0.37,0.26,0.15,0.085,0.06,0.07,0.09,0.105,0.097,0.08,0.06,0.03,0.013,0.007,0];
const membKo = [null,0,0.07,0.18,0.31,0.4,0.45,0.34,0.24,0.14,0.08,0.066,0.065,0.085,0.105,0.115,0.085,0.05,0.025,0.012,0,null];
const membWtQ: Pair[] = [[-1.08,0.44],[-0.77,0.34],[0.56,0.105]];
const membKoQ: Pair[] = [[-1.08,0.44],[-0.8,0.33],[0.38,0.09]];
const membWtPts: Pair[] = [[0.12,2.45],[-0.17,2.2],[-0.1,2.15],[0.02,2.1],[-0.13,2.05],[0.11,2.0],[-0.06,1.95],[0.15,1.9],[-0.16,1.85],[0.05,1.82],[-0.08,1.78],[0.13,1.7],[-0.14,1.65],[0,1.6],[0.08,1.55],[-0.11,1.5],[0.16,1.45],[-0.04,1.4],[0.1,1.35],[-0.15,1.3],[0.03,1.22],[-0.08,1.15],[0.14,1.1],[-0.13,1.05],[0.06,1.0],[-0.02,0.95],[0.17,0.9],[-0.16,0.85],[0.09,0.8],[-0.06,0.75],[0.12,0.7],[-0.12,0.65],[0.02,0.6],[0.15,0.55],[-0.09,0.5],[0.06,0.45],[-0.15,0.4],[-0.02,0.35],[0.12,0.3],[-0.1,0.25],[0.04,0.2],[0.16,0.15],[-0.14,0.1],[0.08,0.05],[-0.05,0],[0.13,-0.05],[-0.12,-0.1],[0.02,-0.15],[0.15,-0.2],[-0.09,-0.25],[0.1,-0.3],[-0.15,-0.3],[0.05,-0.38],[-0.03,-0.42],[0.13,-0.45],[0.06,-0.8],[-0.08,1.9],[0.07,1.2],[-0.05,0.55],[0.01,1.0],
  [-0.12,-0.2],[0.02,-0.18],[0.12,-0.22],[-0.15,0],[-0.05,0.02],[0.06,-0.02],[0.15,0.01],[-0.1,0.2],[0,0.22],[0.1,0.18],[-0.16,0.4],[-0.06,0.42],[0.04,0.38],[0.13,0.41],[-0.12,0.6],[-0.02,0.62],[0.08,0.58],[0.16,0.61],[-0.15,0.8],[-0.05,0.82],[0.05,0.78],[0.14,0.81],[-0.11,1.0],[-0.01,1.02],[0.09,0.98],[0.17,1.01],[-0.16,1.2],[-0.06,1.22],[0.04,1.18],[0.13,1.21],[-0.12,1.4],[-0.02,1.42],[0.08,1.38],[0.16,1.41],[-0.15,1.6],[-0.05,1.62],[0.05,1.58],[0.14,1.61],[-0.11,1.8],[0,1.82],[0.1,1.78],[-0.14,2.0],[-0.03,2.02],[0.07,1.98]];
const membKoPts: Pair[] = [[0.15,2.1],[-0.08,2.12],[-0.06,1.95],[0.02,1.9],[-0.12,1.8],[0.12,1.78],[-0.03,1.72],[0.09,1.65],[-0.14,1.6],[0.05,1.55],[-0.1,1.5],[0.14,1.45],[-0.16,1.38],[0,1.35],[0.1,1.3],[-0.07,1.25],[0.16,1.2],[-0.13,1.15],[0.04,1.1],[-0.02,1.05],[0.12,1.0],[-0.15,0.95],[0.07,0.9],[-0.09,0.85],[0.15,0.8],[-0.04,0.75],[0.02,0.7],[-0.12,0.65],[0.11,0.6],[-0.16,0.55],[0.06,0.5],[-0.06,0.45],[0.14,0.4],[-0.11,0.35],[0.01,0.3],[0.09,0.25],[-0.15,0.2],[0.16,0.15],[-0.03,0.1],[0.07,0.05],[-0.13,0],[0.12,-0.05],[-0.07,-0.1],[0.04,-0.15],[-0.16,-0.2],[0.14,-0.25],[-0.02,-0.3],[0.1,-0.35],[-0.1,-0.42],[0.06,-0.5],[-0.05,-0.55],[0.13,-0.6],[-0.12,-0.62],[0.08,1.4],[-0.08,1.0],[0.03,0.2],
  [-0.1,-0.3],[0.05,-0.28],[-0.15,-0.1],[-0.04,-0.08],[0.07,-0.12],[0.16,-0.09],[-0.11,0.1],[0,0.12],[0.11,0.08],[-0.16,0.3],[-0.06,0.32],[0.05,0.28],[0.14,0.31],[-0.12,0.5],[-0.02,0.52],[0.09,0.48],[0.17,0.51],[-0.15,0.7],[-0.05,0.72],[0.06,0.68],[0.14,0.71],[-0.11,0.9],[-0.01,0.92],[0.1,0.88],[0.17,0.91],[-0.16,1.1],[-0.06,1.12],[0.04,1.08],[0.13,1.11],[-0.12,1.3],[-0.02,1.32],[0.08,1.28],[-0.14,1.5],[-0.04,1.52],[0.06,1.48],[0.15,1.51],[-0.1,1.7],[0.02,1.72],[0.12,1.68]];

const protLevels = [-2.09,-1.96,-1.83,-1.7,-1.57,-1.44,-1.31,-1.18,-1.0,-0.78,-0.52,-0.26,-0.05,0.26,0.58,0.91,1.24,1.57,1.83,2.15,2.5,2.87,3.2,3.53,4.05,4.39,4.52];
const protWt = [0,0.05,0.09,0.17,0.25,0.32,0.38,0.43,0.46,0.41,0.29,0.146,0.088,0.1,0.2,0.28,0.36,0.39,0.37,0.3,0.19,0.1,0.05,0.022,0.009,0.004,0];
const protKo = [null,0,0.06,0.13,0.22,0.31,0.37,0.41,0.46,0.38,0.25,0.146,0.12,0.21,0.33,0.34,0.27,0.265,0.245,0.21,0.13,0.067,0.034,0.016,0.006,0,null];
const protWtQ: Pair[] = [[-0.8,0.41],[1.03,0.3],[1.83,0.37]];
const protKoQ: Pair[] = [[-0.74,0.37],[0.58,0.33],[1.51,0.265]];
const protWtPts: Pair[] = [[-0.16,3.3],[-0.05,3.46],[0.02,3.42],[0.1,3.44],[-0.12,2.74],[0.05,2.72],[0.14,2.7],[-0.06,2.66],[0.1,2.6],[-0.15,2.55],[0.01,2.5],[-0.09,2.45],[0.13,2.4],[-0.03,2.35],[0.07,2.3],[-0.14,2.25],[0.16,2.2],[-0.07,2.15],[0.03,2.1],[-0.11,2.05],[0.12,2.0],[-0.01,1.95],[0.08,1.9],[-0.16,1.85],[0.14,1.8],[-0.05,1.75],[0.04,1.7],[-0.12,1.65],[0.11,1.6],[-0.02,1.55],[0.16,1.5],[-0.09,1.45],[0.06,1.4],[-0.14,1.35],[0.01,1.3],[0.12,1.25],[-0.06,1.2],[0.09,1.15],[-0.15,1.2],[0.14,1.3],[-0.1,1.05],[0.03,0.98],[-0.04,0.9],[0.07,0.82],[-0.08,0.75],[0.05,0.65],[-0.02,0.55],[0.09,0.45],[-0.06,0.38],[-0.15,0.28],[-0.13,0.22],[0.15,0.25],[0.13,0.3],[-0.16,0.15],[-0.03,0.05],[0.06,-0.05],[-0.15,-0.1],[0,-0.15],[0.08,-0.14],[-0.09,1.8],[0.07,2.55],[-0.04,2.25],[0.02,1.85],[-0.12,1.5],[0.1,1.75],[0,2.0],[-0.07,1.6],
  [-0.12,1.1],[0,1.12],[0.12,1.08],[-0.16,1.25],[-0.06,1.27],[0.04,1.23],[0.13,1.26],[-0.12,1.4],[-0.02,1.42],[0.08,1.38],[0.16,1.41],[-0.15,1.55],[-0.05,1.57],[0.05,1.53],[0.14,1.56],[-0.11,1.7],[-0.01,1.72],[0.09,1.68],[0.17,1.71],[-0.16,1.85],[-0.06,1.87],[0.04,1.83],[0.13,1.86],[-0.12,2.0],[-0.02,2.02],[0.08,1.98],[0.16,2.01],[-0.15,2.15],[-0.05,2.17],[0.05,2.13],[0.14,2.16],[-0.11,2.3],[-0.01,2.32],[0.09,2.28],[0.17,2.31],[-0.16,2.45],[-0.06,2.47],[0.04,2.43],[0.13,2.46],[-0.12,2.6],[-0.02,2.62],[0.08,2.58],[0.16,2.61],[-0.14,2.72],[0,2.74],[0.11,2.7],[-0.08,0.7],[0.06,0.72],[-0.12,0.9],[0.1,0.92]];
const protKoPts: Pair[] = [[-0.11,3.4],[0.08,3.42],[0.1,3.38],[0.16,3.35],[-0.15,2.9],[-0.06,2.92],[0.04,2.88],[0.14,2.8],[-0.03,2.6],[0.12,2.55],[-0.12,2.4],[0.06,2.3],[-0.16,2.25],[0,2.2],[0.15,2.15],[-0.08,2.1],[0.1,2.05],[-0.13,2.0],[0.03,1.95],[-0.04,1.9],[0.13,1.85],[-0.15,1.8],[0.07,1.75],[-0.09,1.7],[0.16,1.65],[-0.01,1.6],[0.09,1.55],[-0.14,1.5],[0.02,1.45],[-0.06,1.4],[0.12,1.35],[-0.11,1.3],[0.05,1.25],[0.15,1.2],[-0.16,1.15],[-0.03,1.1],[0.08,1.05],[-0.12,1.0],[0.11,0.95],[-0.07,0.9],[0.02,0.85],[0.14,0.8],[-0.15,0.75],[0.06,0.7],[-0.04,0.65],[0.12,0.6],[-0.1,0.55],[0,0.5],[0.16,0.45],[-0.14,0.4],[0.08,0.35],[-0.05,0.3],[0.1,0.25],[-0.12,0.2],[0.03,0.15],[-0.02,0.05],[0.12,-0.05],[-0.09,-0.15],[0.05,-0.3],[0.13,-0.4],[-0.06,-0.5],[0.1,-0.6],[-0.02,-0.75],[-0.08,1.95],[0.05,1.65],[-0.1,1.2],[0.09,0.65],[0,1.3],
  [-0.12,0.3],[0,0.32],[0.12,0.28],[-0.16,0.45],[-0.06,0.47],[0.04,0.43],[0.13,0.46],[-0.12,0.6],[-0.02,0.62],[0.08,0.58],[0.16,0.61],[-0.15,0.75],[-0.05,0.77],[0.05,0.73],[0.14,0.76],[-0.11,0.9],[-0.01,0.92],[0.09,0.88],[0.17,0.91],[-0.16,1.05],[-0.06,1.07],[0.04,1.03],[0.13,1.06],[-0.12,1.2],[-0.02,1.22],[0.08,1.18],[0.16,1.21],[-0.15,1.35],[-0.05,1.37],[0.05,1.33],[0.14,1.36],[-0.11,1.5],[-0.01,1.52],[0.09,1.48],[0.17,1.51],[-0.16,1.65],[-0.06,1.67],[0.04,1.63],[0.13,1.66],[-0.12,1.8],[-0.02,1.82],[0.08,1.78],[0.16,1.81],[-0.15,1.95],[-0.05,1.97],[0.05,1.93],[0.14,1.96],[-0.11,2.1],[-0.01,2.12],[0.09,2.08],[-0.14,2.25],[0.02,2.27],[0.12,2.23],[-0.08,2.4],[0.07,2.42]];

// ---------- helpers ----------
const pts = (a: Pair[]) => a.map(([x, y]) => ({ x, y }));
const fmtSigned = (v: number) => (v < 0 ? `\u2212${Math.abs(v)}` : `${v}`);
const fpkmLabel = (v: number) => {
  const [i, d] = Math.pow(10, v).toFixed(1).split(".");
  return i.replace(/\B(?=(\d{3})+(?!\d))/g, " ") + "." + d;
};

function Txt({ x, y, size, bold = false, italic = false, rotate = false, left = false, color = "#000", children }: any) {
  return (
    <div
      style={{
        position: "absolute",
        left: x,
        top: y,
        transform: `translate(${left ? "0" : "-50%"}, -50%)${rotate ? " rotate(-90deg)" : ""}`,
        fontSize: size,
        fontWeight: bold ? 700 : 400,
        fontStyle: italic ? "italic" : "normal",
        color,
        lineHeight: 1,
        whiteSpace: "nowrap",
        fontFamily: FONT,
      }}
    >
      {children}
    </div>
  );
}

const legendItems = [
  { label: "Downregulated", color: "#0000ff" },
  { label: "Not Significant", color: "#bdbdbd" },
  { label: "Upregulated", color: "#ff0000" },
];

function RegulationLegend({ x }: { x: number }) {
  const rows = [552, 610, 667];
  return (
    <>
      <Txt x={x} y={489} size={36} left>regulation</Txt>
      {legendItems.map((it, i) => (
        <React.Fragment key={it.label}>
          <div style={{ position: "absolute", left: x + 27 - 9, top: rows[i] - 9, width: 18, height: 18, borderRadius: 9, background: it.color, opacity: 0.75 }} />
          <Txt x={x + 75} y={rows[i]} size={28.5} left>{it.label}</Txt>
        </React.Fragment>
      ))}
    </>
  );
}

function VolcanoPanel({ left, width, mLeft, mRight, xDomain, xTicks, yDomain, yTicks, ns, down, up, rNs, rSig, nsFill, nsOp, sigOp }: any) {
  const dot = (fill: string, op: number, r: number) => (p: any) => <circle cx={p.cx} cy={p.cy} r={r} fill={fill} fillOpacity={op} />;
  const tick = { fill: "#4d4d4d", fontSize: 27.5, fontFamily: FONT };
  return (
    <div style={{ position: "absolute", left, top: 0 }}>
      <ScatterChart width={width} height={1010} margin={{ top: 144, right: mRight, bottom: 0, left: mLeft }}>
        <CartesianGrid stroke="#ebebeb" strokeWidth={2} />
        <XAxis type="number" dataKey="x" domain={xDomain} ticks={xTicks} interval={0} allowDataOverflow height={38} tickLine={false} axisLine={false} tickSize={0} tickMargin={13} tick={tick} />
        <YAxis type="number" dataKey="y" domain={yDomain} ticks={yTicks} interval={0} allowDataOverflow width={100} tickLine={false} axisLine={false} tickSize={0} tickMargin={14} tickFormatter={fmtSigned} tick={tick} />
        <Scatter data={pts(ns)} shape={dot(nsFill, nsOp, rNs)} isAnimationActive={false} />
        <Scatter data={pts(down)} shape={dot("#0000ff", sigOp, rSig)} isAnimationActive={false} />
        <Scatter data={pts(up)} shape={dot("#ff0000", sigOp, rSig)} isAnimationActive={false} />
        <ReferenceLine y={5} stroke="#000" strokeWidth={3} strokeDasharray="17 16" />
        <ReferenceLine y={-5} stroke="#000" strokeWidth={3} strokeDasharray="17 16" />
        <ReferenceArea x1={xDomain[0]} x2={xDomain[1]} y1={yDomain[0]} y2={yDomain[1]} fill="none" stroke="#000" strokeWidth={3} ifOverflow="visible" />
      </ScatterChart>
    </div>
  );
}

const GroupTick = (props: any) => {
  const { x, y, payload } = props;
  const idx = Math.round(payload.value) - 1;
  return (
    <text x={x} y={y} dy="0.71em" textAnchor="middle" fill="#4d4d4d" fontSize={38} fontFamily={FONT} fontStyle={idx === 1 ? "italic" : "normal"}>
      {groups[idx]}
    </text>
  );
};

const logMarks = (domain: number[]) => {
  const out: { v: number; len: number }[] = [];
  for (let d = -3; d <= 5; d++) {
    for (let k = 1; k <= 9; k++) {
      const v = d + Math.log10(k);
      if (v > domain[0] && v < domain[1]) out.push({ v, len: k === 1 ? 0.135 : k === 5 ? 0.1 : 0.054 });
    }
  }
  return out;
};

const violinPanels = [
  { left: 408, domain: [-2.02, 4.53], levels: metabLevels, wt: metabWt, ko: metabKo, wtQ: metabWtQ, koQ: metabKoQ, wtPts: [...metabWtPts, ...metabWtCore], koPts: [...metabKoPts, ...metabKoCore] },
  { left: 1124, domain: [-2.25, 4.47], levels: energyLevels, wt: energyWt, ko: energyKo, wtQ: energyWtQ, koQ: energyKoQ, wtPts: energyWtPts, koPts: energyKoPts },
  { left: 1841, domain: [-2.45, 3.93], levels: rnaLevels, wt: rnaWt, ko: rnaKo, wtQ: rnaWtQ, koQ: rnaKoQ, wtPts: rnaWtPts, koPts: rnaKoPts },
  { left: 2566, domain: [-2.07, 3.49], levels: membLevels, wt: membWt, ko: membKo, wtQ: membWtQ, koQ: membKoQ, wtPts: membWtPts, koPts: membKoPts },
  { left: 3299, domain: [-2.41, 4.83], levels: protLevels, wt: protWt, ko: protKo, wtQ: protWtQ, koQ: protKoQ, wtPts: protWtPts, koPts: protKoPts },
];

const PLOT_W = 489;
const PLOT_H = 686;
const PLOT_TOP = 1416;
const AXIS_W = 130;
const LEFT_PAD = 40;

function ViolinPanel({ cfg, i }: { cfg: any; i: number }) {
  const mkArea = (half: (number | null)[], c: number) =>
    cfg.levels
      .map((v: number, j: number) => (half[j] == null ? null : { y: v, range: [c - (half[j] as number), c + (half[j] as number)] }))
      .filter(Boolean);
  const mkPts = (list: Pair[], c: number) => [
    ...zeroBand.map((dx) => ({ x: c + dx, y: noExprLevel })),
    ...list.map(([dx, v]) => ({ x: c + dx, y: v })),
  ];
  const jitterDot = (p: any) => (
    <circle cx={p.cx} cy={p.cy} r={6.5} fill="#000" fillOpacity={0.45} stroke="#000" strokeOpacity={0.7} strokeWidth={1.4} />
  );
  const labelStyle = { fontSize: 35, fontWeight: 700, fill: "#000", fontFamily: FONT };
  return (
    <div style={{ position: "absolute", left: cfg.left - LEFT_PAD - AXIS_W, top: PLOT_TOP - 10 }}>
      <ComposedChart layout="vertical" width={LEFT_PAD + AXIS_W + PLOT_W + 10} height={10 + PLOT_H + 70} margin={{ top: 10, right: 10, bottom: 0, left: LEFT_PAD }}>
        <CartesianGrid stroke="#ebebeb" strokeWidth={2} />
        <XAxis type="number" dataKey="x" domain={[0.4, 2.6]} ticks={[1, 2]} interval={0} allowDataOverflow height={70} tickLine={false} axisLine={false} tickSize={0} tickMargin={28} tick={<GroupTick />} />
        <YAxis type="number" dataKey="y" domain={cfg.domain} ticks={[-1, 1, 3]} interval={0} reversed allowDataOverflow width={AXIS_W} tickLine={false} axisLine={false} tickSize={0} tickMargin={30} tickFormatter={fpkmLabel} tick={{ fill: "#4d4d4d", fontSize: 37.5, fontFamily: FONT }} />
        {logMarks(cfg.domain).map((m) => (
          <ReferenceLine key={`lt${m.v}`} segment={[{ x: 0.4, y: m.v }, { x: 0.4 + m.len, y: m.v }]} stroke="#000" strokeWidth={4} />
        ))}
        <Area data={mkArea(cfg.wt, 1)} dataKey="range" type="monotone" fill="#0000ff" fillOpacity={0.7} stroke="#333333" strokeWidth={4} dot={false} activeDot={false} isAnimationActive={false} />
        <Area data={mkArea(cfg.ko, 2)} dataKey="range" type="monotone" fill="#ff0000" fillOpacity={0.7} stroke="#333333" strokeWidth={4} dot={false} activeDot={false} isAnimationActive={false} />
        {cfg.wtQ.map(([v, h]: Pair) => (
          <ReferenceLine key={`qw${v}`} segment={[{ x: 1 - h, y: v }, { x: 1 + h, y: v }]} stroke="#333333" strokeWidth={3} />
        ))}
        {cfg.koQ.map(([v, h]: Pair) => (
          <ReferenceLine key={`qk${v}`} segment={[{ x: 2 - h, y: v }, { x: 2 + h, y: v }]} stroke="#333333" strokeWidth={3} />
        ))}
        <Scatter data={mkPts(cfg.wtPts, 1)} shape={jitterDot} isAnimationActive={false} />
        <Scatter data={mkPts(cfg.koPts, 2)} shape={jitterDot} isAnimationActive={false} />
        <ReferenceLine y={0} stroke="#a0a0a0" strokeWidth={4} strokeDasharray="20 23" />
        <ReferenceLine segment={[{ x: 1, y: bracketLevels[i] }, { x: 2, y: bracketLevels[i] }]} stroke="#000" strokeWidth={2.8}>
          <Label value={pLabels[i]} position="top" offset={18} {...labelStyle} />
          <Label value={fcLabels[i]} position="bottom" offset={9} {...labelStyle} />
        </ReferenceLine>
        <ReferenceArea x1={0.4} x2={2.6} y1={cfg.domain[0]} y2={cfg.domain[1]} fill="none" stroke="#000" strokeWidth={3} ifOverflow="visible" />
      </ComposedChart>
    </div>
  );
}

export default function App() {
  return (
    <div style={{ position: "absolute", left: 0, top: 0, width: 4024, height: 2200, background: "#fff", overflow: "hidden", fontFamily: FONT }}>
      {/* A */}
      <Txt x={80} y={61} size={82} bold>A</Txt>
      <VolcanoPanel left={0} width={1700} mLeft={35} mRight={14} xDomain={[-18, 1053]} xTicks={[0, 250, 500, 750, 1000]} yDomain={[-11.55, 11.52]} yTicks={[-10, -5, 0, 5, 10]} ns={[...mzNs, ...mzNsBand]} down={mzDown} up={mzUp} rNs={6.5} rSig={7.5} nsFill="#c8c8c8" nsOp={1} sigOp={0.95} />
      <Txt x={51} y={561} size={40} rotate>log2 Fold change</Txt>
      <Txt x={910} y={1052} size={41} bold>m/z</Txt>
      <RegulationLegend x={1702} />

      {/* B */}
      <Txt x={2072} y={61} size={82} bold>B</Txt>
      <VolcanoPanel left={2030} width={1680} mLeft={15} mRight={7} xDomain={[-218, 4574]} xTicks={[0, 1000, 2000, 3000, 4000]} yDomain={[-14.16, 15.68]} yTicks={[-10, -5, 0, 5, 10, 15]} ns={[...geneNs, ...geneNs2]} down={[...geneDown, ...geneDown2]} up={[...geneUp, ...geneUp2]} rNs={7.5} rSig={7.5} nsFill="#a9a9a9" nsOp={0.7} sigOp={0.8} />
      <Txt x={2057} y={558} size={40} rotate>log2 Fold change</Txt>
      <Txt x={2930} y={1059} size={41} bold>Gene order (SC318_RS00001-27160)</Txt>
      <RegulationLegend x={3718} />

      {/* C */}
      <Txt x={80} y={1318} size={82} bold>C</Txt>
      <Txt x={176} y={1759} size={44} bold rotate>FPKM (log scale)</Txt>
      {violinPanels.map((cfg, i) => (
        <React.Fragment key={categories[i]}>
          <Txt x={cfg.left + PLOT_W / 2} y={1292} size={45} bold>{categories[i]}</Txt>
          <Txt x={cfg.left + PLOT_W / 2} y={1363} size={40}>{`${geneCounts[i]} Genes`}</Txt>
          <ViolinPanel cfg={cfg} i={i} />
        </React.Fragment>
      ))}
    </div>
  );
}
